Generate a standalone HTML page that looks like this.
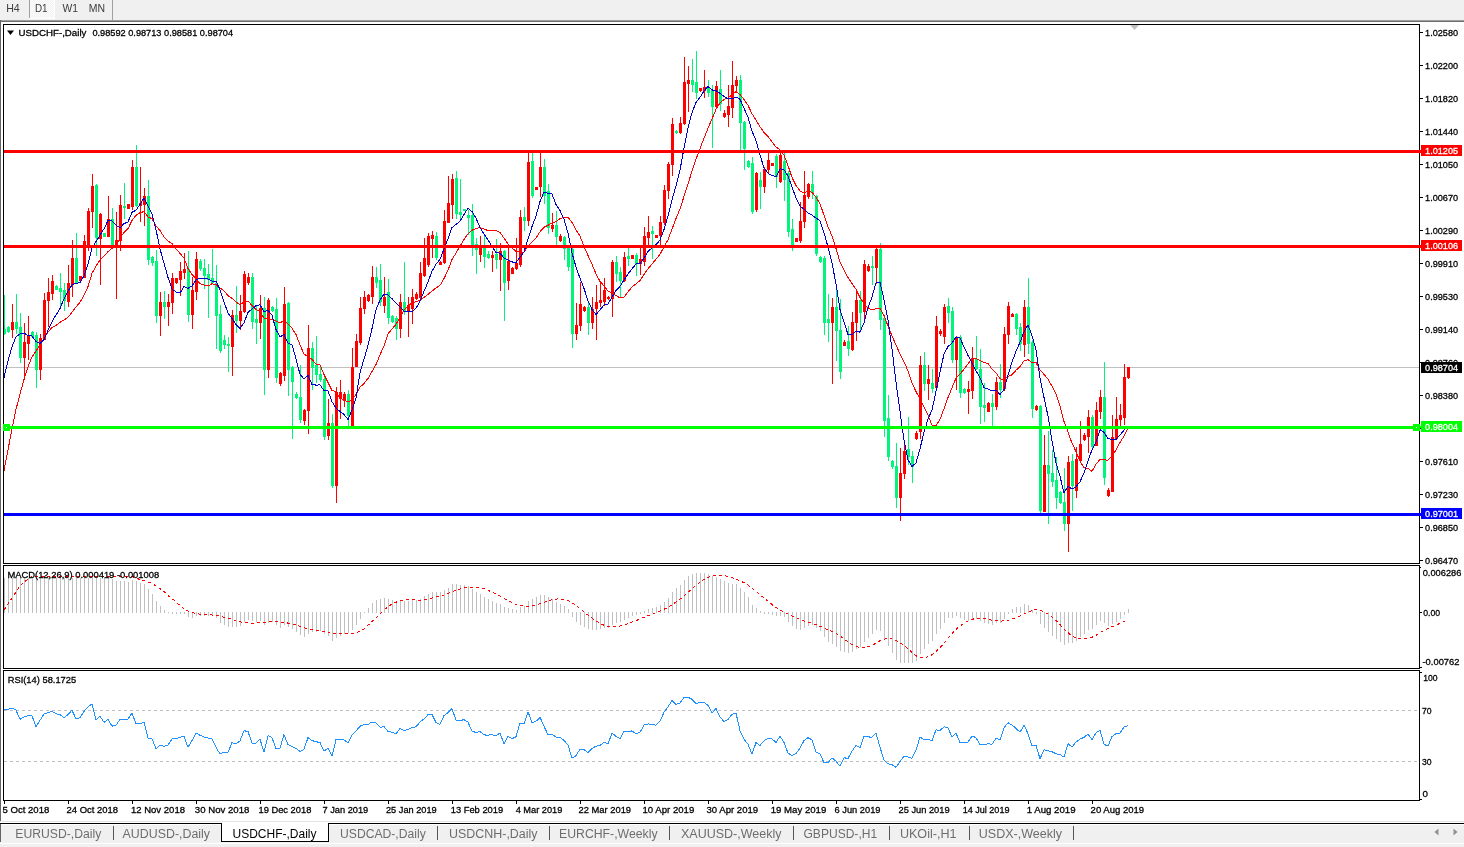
<!DOCTYPE html><html><head><meta charset="utf-8"><title>USDCHF-,Daily</title><style>
html,body{margin:0;padding:0;background:#f0f0f0;}
body{width:1464px;height:847px;overflow:hidden;position:relative;}
svg{position:absolute;left:0;top:0;display:block}
text{font-family:"Liberation Sans",Arial,sans-serif;}
</style></head><body>
<svg width="1464" height="847" viewBox="0 0 1464 847">
<g shape-rendering="crispEdges">
<rect x="0" y="0" width="1464" height="847" fill="#f0f0f0"/>
<rect x="0" y="20" width="1464" height="1" fill="#a0a0a0"/>
<rect x="0" y="21" width="1464" height="1" fill="#6e6e6e"/>
<rect x="1" y="22" width="1463" height="799" fill="#ffffff"/>
<rect x="0" y="20" width="1" height="801" fill="#646464"/>
<rect x="29" y="0" width="1" height="18" fill="#a0a0a0"/>
<rect x="112" y="0" width="1" height="20" fill="#a0a0a0"/>
</g>
<defs><pattern id="chk" width="2" height="2" patternUnits="userSpaceOnUse"><rect width="2" height="2" fill="#f0f0f0"/><rect width="1" height="1" fill="#ffffff"/><rect x="1" y="1" width="1" height="1" fill="#ffffff"/></pattern></defs>
<rect x="30" y="0" width="24" height="18" fill="url(#chk)" shape-rendering="crispEdges"/>
<rect x="54" y="0" width="1" height="19" fill="#ffffff" shape-rendering="crispEdges"/><rect x="29" y="18" width="26" height="1" fill="#ffffff" shape-rendering="crispEdges"/>
<g shape-rendering="crispEdges" fill="none" stroke="#000" stroke-width="1">
<rect x="3.5" y="24.5" width="1416" height="539"/>
<rect x="3.5" y="565.5" width="1416" height="103"/>
<rect x="3.5" y="670.5" width="1416" height="130"/>
</g>
<svg x="4" y="25" width="1415" height="538" viewBox="4 25 1415 538" overflow="hidden">
<rect x="4" y="367" width="1415" height="1" fill="#c0c0c0" shape-rendering="crispEdges"/>
<g shape-rendering="crispEdges">
<rect x="4" y="295" width="1" height="40" fill="#00f57a"/><rect x="3" y="329" width="3" height="5" fill="#00f57a"/>
<rect x="8" y="326" width="1" height="7" fill="#00f57a"/><rect x="7" y="327" width="3" height="5" fill="#00f57a"/>
<rect x="12" y="304" width="1" height="34" fill="#ff0000"/><rect x="11" y="322" width="3" height="8" fill="#ff0000"/>
<rect x="16" y="294" width="1" height="40" fill="#00f57a"/><rect x="15" y="322" width="3" height="7" fill="#00f57a"/>
<rect x="20" y="313" width="1" height="50" fill="#00f57a"/><rect x="19" y="327" width="3" height="31" fill="#00f57a"/>
<rect x="24" y="323" width="1" height="55" fill="#ff0000"/><rect x="23" y="342" width="3" height="16" fill="#ff0000"/>
<rect x="28" y="316" width="1" height="44" fill="#ff0000"/><rect x="27" y="336" width="3" height="8" fill="#ff0000"/>
<rect x="32" y="331" width="1" height="7" fill="#00f57a"/><rect x="31" y="332" width="3" height="5" fill="#00f57a"/>
<rect x="36" y="332" width="1" height="56" fill="#00f57a"/><rect x="35" y="335" width="3" height="35" fill="#00f57a"/>
<rect x="40" y="334" width="1" height="46" fill="#ff0000"/><rect x="39" y="338" width="3" height="32" fill="#ff0000"/>
<rect x="44" y="293" width="1" height="47" fill="#ff0000"/><rect x="43" y="300" width="3" height="40" fill="#ff0000"/>
<rect x="48" y="278" width="1" height="49" fill="#ff0000"/><rect x="47" y="292" width="3" height="9" fill="#ff0000"/>
<rect x="52" y="275" width="1" height="25" fill="#ff0000"/><rect x="51" y="281" width="3" height="13" fill="#ff0000"/>
<rect x="56" y="285" width="1" height="5" fill="#00f57a"/><rect x="55" y="286" width="3" height="4" fill="#00f57a"/>
<rect x="60" y="273" width="1" height="34" fill="#00f57a"/><rect x="59" y="288" width="3" height="4" fill="#00f57a"/>
<rect x="64" y="283" width="1" height="28" fill="#00f57a"/><rect x="63" y="290" width="3" height="11" fill="#00f57a"/>
<rect x="68" y="265" width="1" height="42" fill="#ff0000"/><rect x="67" y="283" width="3" height="19" fill="#ff0000"/>
<rect x="72" y="240" width="1" height="57" fill="#ff0000"/><rect x="71" y="258" width="3" height="27" fill="#ff0000"/>
<rect x="76" y="233" width="1" height="51" fill="#00f57a"/><rect x="75" y="258" width="3" height="25" fill="#00f57a"/>
<rect x="80" y="276" width="1" height="6" fill="#ff0000"/><rect x="79" y="276" width="3" height="5" fill="#ff0000"/>
<rect x="84" y="235" width="1" height="43" fill="#ff0000"/><rect x="83" y="241" width="3" height="37" fill="#ff0000"/>
<rect x="88" y="208" width="1" height="43" fill="#ff0000"/><rect x="87" y="211" width="3" height="34" fill="#ff0000"/>
<rect x="92" y="174" width="1" height="54" fill="#ff0000"/><rect x="91" y="186" width="3" height="26" fill="#ff0000"/>
<rect x="96" y="184" width="1" height="72" fill="#00f57a"/><rect x="95" y="185" width="3" height="53" fill="#00f57a"/>
<rect x="100" y="213" width="1" height="72" fill="#ff0000"/><rect x="99" y="214" width="3" height="25" fill="#ff0000"/>
<rect x="104" y="233" width="1" height="4" fill="#00f57a"/><rect x="103" y="233" width="3" height="4" fill="#00f57a"/>
<rect x="108" y="196" width="1" height="41" fill="#ff0000"/><rect x="107" y="219" width="3" height="18" fill="#ff0000"/>
<rect x="112" y="208" width="1" height="37" fill="#00f57a"/><rect x="111" y="219" width="3" height="26" fill="#00f57a"/>
<rect x="116" y="212" width="1" height="87" fill="#ff0000"/><rect x="115" y="240" width="3" height="6" fill="#ff0000"/>
<rect x="120" y="195" width="1" height="56" fill="#ff0000"/><rect x="119" y="205" width="3" height="36" fill="#ff0000"/>
<rect x="124" y="183" width="1" height="36" fill="#00f57a"/><rect x="123" y="206" width="3" height="2" fill="#00f57a"/>
<rect x="128" y="204" width="1" height="5" fill="#ff0000"/><rect x="127" y="204" width="3" height="5" fill="#ff0000"/>
<rect x="132" y="160" width="1" height="50" fill="#ff0000"/><rect x="131" y="167" width="3" height="40" fill="#ff0000"/>
<rect x="136" y="145" width="1" height="62" fill="#00f57a"/><rect x="135" y="167" width="3" height="39" fill="#00f57a"/>
<rect x="140" y="167" width="1" height="55" fill="#ff0000"/><rect x="139" y="203" width="3" height="3" fill="#ff0000"/>
<rect x="144" y="188" width="1" height="38" fill="#ff0000"/><rect x="143" y="196" width="3" height="9" fill="#ff0000"/>
<rect x="148" y="180" width="1" height="85" fill="#00f57a"/><rect x="147" y="196" width="3" height="64" fill="#00f57a"/>
<rect x="152" y="256" width="1" height="10" fill="#00f57a"/><rect x="151" y="257" width="3" height="6" fill="#00f57a"/>
<rect x="156" y="250" width="1" height="73" fill="#00f57a"/><rect x="155" y="261" width="3" height="55" fill="#00f57a"/>
<rect x="160" y="292" width="1" height="44" fill="#ff0000"/><rect x="159" y="302" width="3" height="14" fill="#ff0000"/>
<rect x="164" y="291" width="1" height="28" fill="#00f57a"/><rect x="163" y="302" width="3" height="5" fill="#00f57a"/>
<rect x="168" y="294" width="1" height="32" fill="#ff0000"/><rect x="167" y="302" width="3" height="5" fill="#ff0000"/>
<rect x="172" y="273" width="1" height="41" fill="#ff0000"/><rect x="171" y="278" width="3" height="25" fill="#ff0000"/>
<rect x="176" y="278" width="1" height="6" fill="#ff0000"/><rect x="175" y="278" width="3" height="5" fill="#ff0000"/>
<rect x="180" y="262" width="1" height="34" fill="#ff0000"/><rect x="179" y="271" width="3" height="9" fill="#ff0000"/>
<rect x="184" y="253" width="1" height="26" fill="#ff0000"/><rect x="183" y="269" width="3" height="4" fill="#ff0000"/>
<rect x="188" y="251" width="1" height="71" fill="#00f57a"/><rect x="187" y="269" width="3" height="46" fill="#00f57a"/>
<rect x="192" y="277" width="1" height="52" fill="#ff0000"/><rect x="191" y="290" width="3" height="25" fill="#ff0000"/>
<rect x="196" y="252" width="1" height="48" fill="#ff0000"/><rect x="195" y="259" width="3" height="33" fill="#ff0000"/>
<rect x="200" y="259" width="1" height="12" fill="#00f57a"/><rect x="199" y="261" width="3" height="8" fill="#00f57a"/>
<rect x="204" y="259" width="1" height="30" fill="#00f57a"/><rect x="203" y="268" width="3" height="8" fill="#00f57a"/>
<rect x="208" y="264" width="1" height="54" fill="#00f57a"/><rect x="207" y="274" width="3" height="6" fill="#00f57a"/>
<rect x="212" y="249" width="1" height="35" fill="#00f57a"/><rect x="211" y="278" width="3" height="5" fill="#00f57a"/>
<rect x="216" y="265" width="1" height="84" fill="#00f57a"/><rect x="215" y="283" width="3" height="33" fill="#00f57a"/>
<rect x="220" y="305" width="1" height="48" fill="#00f57a"/><rect x="219" y="314" width="3" height="37" fill="#00f57a"/>
<rect x="224" y="335" width="1" height="14" fill="#00f57a"/><rect x="223" y="340" width="3" height="5" fill="#00f57a"/>
<rect x="228" y="337" width="1" height="35" fill="#00f57a"/><rect x="227" y="344" width="3" height="2" fill="#00f57a"/>
<rect x="232" y="310" width="1" height="66" fill="#ff0000"/><rect x="231" y="315" width="3" height="32" fill="#ff0000"/>
<rect x="236" y="286" width="1" height="47" fill="#00f57a"/><rect x="235" y="315" width="3" height="6" fill="#00f57a"/>
<rect x="240" y="295" width="1" height="35" fill="#ff0000"/><rect x="239" y="311" width="3" height="10" fill="#ff0000"/>
<rect x="244" y="271" width="1" height="42" fill="#ff0000"/><rect x="243" y="274" width="3" height="38" fill="#ff0000"/>
<rect x="248" y="273" width="1" height="12" fill="#ff0000"/><rect x="247" y="277" width="3" height="6" fill="#ff0000"/>
<rect x="252" y="273" width="1" height="56" fill="#00f57a"/><rect x="251" y="277" width="3" height="45" fill="#00f57a"/>
<rect x="256" y="305" width="1" height="39" fill="#00f57a"/><rect x="255" y="319" width="3" height="4" fill="#00f57a"/>
<rect x="260" y="295" width="1" height="44" fill="#ff0000"/><rect x="259" y="308" width="3" height="15" fill="#ff0000"/>
<rect x="264" y="297" width="1" height="98" fill="#00f57a"/><rect x="263" y="308" width="3" height="62" fill="#00f57a"/>
<rect x="268" y="298" width="1" height="80" fill="#ff0000"/><rect x="267" y="300" width="3" height="70" fill="#ff0000"/>
<rect x="272" y="306" width="1" height="6" fill="#00f57a"/><rect x="271" y="307" width="3" height="4" fill="#00f57a"/>
<rect x="276" y="298" width="1" height="85" fill="#00f57a"/><rect x="275" y="309" width="3" height="69" fill="#00f57a"/>
<rect x="280" y="372" width="1" height="14" fill="#ff0000"/><rect x="279" y="373" width="3" height="11" fill="#ff0000"/>
<rect x="284" y="287" width="1" height="94" fill="#ff0000"/><rect x="283" y="304" width="3" height="72" fill="#ff0000"/>
<rect x="288" y="302" width="1" height="94" fill="#00f57a"/><rect x="287" y="303" width="3" height="67" fill="#00f57a"/>
<rect x="292" y="366" width="1" height="73" fill="#00f57a"/><rect x="291" y="367" width="3" height="15" fill="#00f57a"/>
<rect x="296" y="392" width="1" height="7" fill="#00f57a"/><rect x="295" y="394" width="3" height="4" fill="#00f57a"/>
<rect x="300" y="365" width="1" height="58" fill="#00f57a"/><rect x="299" y="397" width="3" height="23" fill="#00f57a"/>
<rect x="304" y="409" width="1" height="16" fill="#ff0000"/><rect x="303" y="410" width="3" height="11" fill="#ff0000"/>
<rect x="308" y="325" width="1" height="109" fill="#ff0000"/><rect x="307" y="348" width="3" height="63" fill="#ff0000"/>
<rect x="312" y="342" width="1" height="48" fill="#00f57a"/><rect x="311" y="348" width="3" height="20" fill="#00f57a"/>
<rect x="316" y="336" width="1" height="47" fill="#00f57a"/><rect x="315" y="365" width="3" height="10" fill="#00f57a"/>
<rect x="320" y="365" width="1" height="17" fill="#00f57a"/><rect x="319" y="374" width="3" height="6" fill="#00f57a"/>
<rect x="324" y="377" width="1" height="63" fill="#00f57a"/><rect x="323" y="379" width="3" height="58" fill="#00f57a"/>
<rect x="328" y="399" width="1" height="41" fill="#ff0000"/><rect x="327" y="423" width="3" height="13" fill="#ff0000"/>
<rect x="332" y="414" width="1" height="74" fill="#00f57a"/><rect x="331" y="423" width="3" height="63" fill="#00f57a"/>
<rect x="336" y="387" width="1" height="116" fill="#ff0000"/><rect x="335" y="392" width="3" height="94" fill="#ff0000"/>
<rect x="340" y="380" width="1" height="39" fill="#ff0000"/><rect x="339" y="392" width="3" height="7" fill="#ff0000"/>
<rect x="344" y="392" width="1" height="15" fill="#ff0000"/><rect x="343" y="394" width="3" height="7" fill="#ff0000"/>
<rect x="348" y="390" width="1" height="36" fill="#00f57a"/><rect x="347" y="394" width="3" height="22" fill="#00f57a"/>
<rect x="352" y="348" width="1" height="79" fill="#ff0000"/><rect x="351" y="367" width="3" height="59" fill="#ff0000"/>
<rect x="356" y="334" width="1" height="33" fill="#ff0000"/><rect x="355" y="341" width="3" height="26" fill="#ff0000"/>
<rect x="360" y="297" width="1" height="48" fill="#ff0000"/><rect x="359" y="308" width="3" height="35" fill="#ff0000"/>
<rect x="364" y="291" width="1" height="23" fill="#ff0000"/><rect x="363" y="297" width="3" height="12" fill="#ff0000"/>
<rect x="368" y="294" width="1" height="8" fill="#ff0000"/><rect x="367" y="295" width="3" height="6" fill="#ff0000"/>
<rect x="372" y="266" width="1" height="38" fill="#ff0000"/><rect x="371" y="277" width="3" height="20" fill="#ff0000"/>
<rect x="376" y="267" width="1" height="21" fill="#00f57a"/><rect x="375" y="277" width="3" height="6" fill="#00f57a"/>
<rect x="380" y="264" width="1" height="42" fill="#00f57a"/><rect x="379" y="280" width="3" height="22" fill="#00f57a"/>
<rect x="384" y="277" width="1" height="36" fill="#ff0000"/><rect x="383" y="297" width="3" height="9" fill="#ff0000"/>
<rect x="388" y="279" width="1" height="45" fill="#00f57a"/><rect x="387" y="292" width="3" height="26" fill="#00f57a"/>
<rect x="392" y="315" width="1" height="8" fill="#00f57a"/><rect x="391" y="316" width="3" height="6" fill="#00f57a"/>
<rect x="396" y="316" width="1" height="24" fill="#00f57a"/><rect x="395" y="318" width="3" height="11" fill="#00f57a"/>
<rect x="400" y="294" width="1" height="44" fill="#ff0000"/><rect x="399" y="302" width="3" height="27" fill="#ff0000"/>
<rect x="404" y="262" width="1" height="53" fill="#00f57a"/><rect x="403" y="302" width="3" height="10" fill="#00f57a"/>
<rect x="408" y="297" width="1" height="40" fill="#ff0000"/><rect x="407" y="305" width="3" height="7" fill="#ff0000"/>
<rect x="412" y="289" width="1" height="35" fill="#ff0000"/><rect x="411" y="297" width="3" height="12" fill="#ff0000"/>
<rect x="416" y="292" width="1" height="8" fill="#ff0000"/><rect x="415" y="294" width="3" height="5" fill="#ff0000"/>
<rect x="420" y="262" width="1" height="38" fill="#ff0000"/><rect x="419" y="273" width="3" height="25" fill="#ff0000"/>
<rect x="424" y="238" width="1" height="39" fill="#ff0000"/><rect x="423" y="258" width="3" height="18" fill="#ff0000"/>
<rect x="428" y="233" width="1" height="34" fill="#ff0000"/><rect x="427" y="236" width="3" height="29" fill="#ff0000"/>
<rect x="432" y="231" width="1" height="27" fill="#ff0000"/><rect x="431" y="235" width="3" height="4" fill="#ff0000"/>
<rect x="436" y="232" width="1" height="28" fill="#00f57a"/><rect x="435" y="236" width="3" height="22" fill="#00f57a"/>
<rect x="440" y="261" width="1" height="4" fill="#ff0000"/><rect x="439" y="262" width="3" height="3" fill="#ff0000"/>
<rect x="444" y="210" width="1" height="54" fill="#ff0000"/><rect x="443" y="221" width="3" height="42" fill="#ff0000"/>
<rect x="448" y="176" width="1" height="47" fill="#ff0000"/><rect x="447" y="203" width="3" height="20" fill="#ff0000"/>
<rect x="452" y="174" width="1" height="45" fill="#ff0000"/><rect x="451" y="179" width="3" height="26" fill="#ff0000"/>
<rect x="456" y="171" width="1" height="48" fill="#00f57a"/><rect x="455" y="178" width="3" height="36" fill="#00f57a"/>
<rect x="460" y="179" width="1" height="40" fill="#00f57a"/><rect x="459" y="212" width="3" height="3" fill="#00f57a"/>
<rect x="464" y="209" width="1" height="2" fill="#00f57a"/><rect x="463" y="209" width="3" height="2" fill="#00f57a"/>
<rect x="468" y="210" width="1" height="25" fill="#00f57a"/><rect x="467" y="215" width="3" height="3" fill="#00f57a"/>
<rect x="472" y="204" width="1" height="52" fill="#00f57a"/><rect x="471" y="215" width="3" height="31" fill="#00f57a"/>
<rect x="476" y="238" width="1" height="36" fill="#00f57a"/><rect x="475" y="244" width="3" height="6" fill="#00f57a"/>
<rect x="480" y="236" width="1" height="26" fill="#ff0000"/><rect x="479" y="246" width="3" height="9" fill="#ff0000"/>
<rect x="484" y="236" width="1" height="32" fill="#00f57a"/><rect x="483" y="247" width="3" height="10" fill="#00f57a"/>
<rect x="488" y="251" width="1" height="8" fill="#00f57a"/><rect x="487" y="254" width="3" height="4" fill="#00f57a"/>
<rect x="492" y="251" width="1" height="21" fill="#ff0000"/><rect x="491" y="255" width="3" height="3" fill="#ff0000"/>
<rect x="496" y="239" width="1" height="30" fill="#00f57a"/><rect x="495" y="254" width="3" height="6" fill="#00f57a"/>
<rect x="500" y="243" width="1" height="48" fill="#ff0000"/><rect x="499" y="251" width="3" height="9" fill="#ff0000"/>
<rect x="504" y="250" width="1" height="71" fill="#00f57a"/><rect x="503" y="251" width="3" height="32" fill="#00f57a"/>
<rect x="508" y="244" width="1" height="46" fill="#ff0000"/><rect x="507" y="261" width="3" height="20" fill="#ff0000"/>
<rect x="512" y="267" width="1" height="7" fill="#ff0000"/><rect x="511" y="268" width="3" height="6" fill="#ff0000"/>
<rect x="516" y="238" width="1" height="32" fill="#ff0000"/><rect x="515" y="263" width="3" height="6" fill="#ff0000"/>
<rect x="520" y="210" width="1" height="57" fill="#ff0000"/><rect x="519" y="217" width="3" height="48" fill="#ff0000"/>
<rect x="524" y="207" width="1" height="24" fill="#00f57a"/><rect x="523" y="217" width="3" height="4" fill="#00f57a"/>
<rect x="528" y="150" width="1" height="76" fill="#ff0000"/><rect x="527" y="162" width="3" height="59" fill="#ff0000"/>
<rect x="532" y="153" width="1" height="45" fill="#00f57a"/><rect x="531" y="161" width="3" height="35" fill="#00f57a"/>
<rect x="536" y="187" width="1" height="3" fill="#ff0000"/><rect x="535" y="187" width="3" height="3" fill="#ff0000"/>
<rect x="540" y="152" width="1" height="45" fill="#ff0000"/><rect x="539" y="167" width="3" height="20" fill="#ff0000"/>
<rect x="544" y="159" width="1" height="45" fill="#00f57a"/><rect x="543" y="167" width="3" height="29" fill="#00f57a"/>
<rect x="548" y="184" width="1" height="50" fill="#00f57a"/><rect x="547" y="191" width="3" height="37" fill="#00f57a"/>
<rect x="552" y="213" width="1" height="19" fill="#ff0000"/><rect x="551" y="225" width="3" height="4" fill="#ff0000"/>
<rect x="556" y="211" width="1" height="34" fill="#00f57a"/><rect x="555" y="225" width="3" height="12" fill="#00f57a"/>
<rect x="560" y="234" width="1" height="8" fill="#ff0000"/><rect x="559" y="236" width="3" height="5" fill="#ff0000"/>
<rect x="564" y="236" width="1" height="24" fill="#00f57a"/><rect x="563" y="237" width="3" height="12" fill="#00f57a"/>
<rect x="568" y="247" width="1" height="24" fill="#00f57a"/><rect x="567" y="248" width="3" height="19" fill="#00f57a"/>
<rect x="572" y="248" width="1" height="100" fill="#00f57a"/><rect x="571" y="249" width="3" height="85" fill="#00f57a"/>
<rect x="576" y="303" width="1" height="37" fill="#ff0000"/><rect x="575" y="325" width="3" height="9" fill="#ff0000"/>
<rect x="580" y="282" width="1" height="49" fill="#ff0000"/><rect x="579" y="304" width="3" height="22" fill="#ff0000"/>
<rect x="584" y="306" width="1" height="6" fill="#ff0000"/><rect x="583" y="307" width="3" height="4" fill="#ff0000"/>
<rect x="588" y="303" width="1" height="32" fill="#00f57a"/><rect x="587" y="307" width="3" height="16" fill="#00f57a"/>
<rect x="592" y="297" width="1" height="32" fill="#ff0000"/><rect x="591" y="309" width="3" height="14" fill="#ff0000"/>
<rect x="596" y="285" width="1" height="55" fill="#ff0000"/><rect x="595" y="302" width="3" height="7" fill="#ff0000"/>
<rect x="600" y="282" width="1" height="25" fill="#ff0000"/><rect x="599" y="300" width="3" height="3" fill="#ff0000"/>
<rect x="604" y="278" width="1" height="28" fill="#ff0000"/><rect x="603" y="290" width="3" height="12" fill="#ff0000"/>
<rect x="608" y="296" width="1" height="4" fill="#ff0000"/><rect x="607" y="297" width="3" height="2" fill="#ff0000"/>
<rect x="612" y="260" width="1" height="57" fill="#ff0000"/><rect x="611" y="262" width="3" height="37" fill="#ff0000"/>
<rect x="616" y="256" width="1" height="26" fill="#00f57a"/><rect x="615" y="262" width="3" height="12" fill="#00f57a"/>
<rect x="620" y="267" width="1" height="31" fill="#00f57a"/><rect x="619" y="272" width="3" height="9" fill="#00f57a"/>
<rect x="624" y="252" width="1" height="30" fill="#ff0000"/><rect x="623" y="257" width="3" height="24" fill="#ff0000"/>
<rect x="628" y="248" width="1" height="18" fill="#00f57a"/><rect x="627" y="256" width="3" height="3" fill="#00f57a"/>
<rect x="632" y="255" width="1" height="4" fill="#ff0000"/><rect x="631" y="255" width="3" height="4" fill="#ff0000"/>
<rect x="636" y="253" width="1" height="23" fill="#00f57a"/><rect x="635" y="255" width="3" height="9" fill="#00f57a"/>
<rect x="640" y="248" width="1" height="27" fill="#ff0000"/><rect x="639" y="259" width="3" height="5" fill="#ff0000"/>
<rect x="644" y="227" width="1" height="39" fill="#ff0000"/><rect x="643" y="236" width="3" height="26" fill="#ff0000"/>
<rect x="648" y="216" width="1" height="30" fill="#ff0000"/><rect x="647" y="232" width="3" height="6" fill="#ff0000"/>
<rect x="652" y="226" width="1" height="33" fill="#00f57a"/><rect x="651" y="231" width="3" height="3" fill="#00f57a"/>
<rect x="656" y="235" width="1" height="3" fill="#ff0000"/><rect x="655" y="235" width="3" height="3" fill="#ff0000"/>
<rect x="660" y="216" width="1" height="29" fill="#ff0000"/><rect x="659" y="222" width="3" height="14" fill="#ff0000"/>
<rect x="664" y="185" width="1" height="40" fill="#ff0000"/><rect x="663" y="190" width="3" height="33" fill="#ff0000"/>
<rect x="668" y="162" width="1" height="37" fill="#ff0000"/><rect x="667" y="164" width="3" height="27" fill="#ff0000"/>
<rect x="672" y="118" width="1" height="58" fill="#ff0000"/><rect x="671" y="124" width="3" height="41" fill="#ff0000"/>
<rect x="676" y="130" width="1" height="4" fill="#00f57a"/><rect x="675" y="131" width="3" height="2" fill="#00f57a"/>
<rect x="680" y="117" width="1" height="17" fill="#ff0000"/><rect x="679" y="123" width="3" height="10" fill="#ff0000"/>
<rect x="684" y="57" width="1" height="68" fill="#ff0000"/><rect x="683" y="82" width="3" height="42" fill="#ff0000"/>
<rect x="688" y="66" width="1" height="46" fill="#ff0000"/><rect x="687" y="80" width="3" height="4" fill="#ff0000"/>
<rect x="692" y="59" width="1" height="33" fill="#00f57a"/><rect x="691" y="80" width="3" height="5" fill="#00f57a"/>
<rect x="696" y="51" width="1" height="48" fill="#00f57a"/><rect x="695" y="82" width="3" height="11" fill="#00f57a"/>
<rect x="700" y="88" width="1" height="4" fill="#ff0000"/><rect x="699" y="88" width="3" height="3" fill="#ff0000"/>
<rect x="704" y="70" width="1" height="28" fill="#ff0000"/><rect x="703" y="87" width="3" height="4" fill="#ff0000"/>
<rect x="708" y="80" width="1" height="17" fill="#00f57a"/><rect x="707" y="87" width="3" height="6" fill="#00f57a"/>
<rect x="712" y="85" width="1" height="63" fill="#00f57a"/><rect x="711" y="90" width="3" height="17" fill="#00f57a"/>
<rect x="716" y="81" width="1" height="27" fill="#ff0000"/><rect x="715" y="86" width="3" height="21" fill="#ff0000"/>
<rect x="720" y="70" width="1" height="41" fill="#00f57a"/><rect x="719" y="89" width="3" height="15" fill="#00f57a"/>
<rect x="724" y="110" width="1" height="8" fill="#ff0000"/><rect x="723" y="113" width="3" height="4" fill="#ff0000"/>
<rect x="728" y="85" width="1" height="42" fill="#ff0000"/><rect x="727" y="106" width="3" height="9" fill="#ff0000"/>
<rect x="732" y="61" width="1" height="57" fill="#ff0000"/><rect x="731" y="85" width="3" height="23" fill="#ff0000"/>
<rect x="736" y="76" width="1" height="15" fill="#ff0000"/><rect x="735" y="80" width="3" height="6" fill="#ff0000"/>
<rect x="740" y="75" width="1" height="75" fill="#00f57a"/><rect x="739" y="80" width="3" height="43" fill="#00f57a"/>
<rect x="744" y="121" width="1" height="49" fill="#00f57a"/><rect x="743" y="122" width="3" height="27" fill="#00f57a"/>
<rect x="748" y="160" width="1" height="8" fill="#00f57a"/><rect x="747" y="161" width="3" height="6" fill="#00f57a"/>
<rect x="752" y="157" width="1" height="57" fill="#00f57a"/><rect x="751" y="163" width="3" height="49" fill="#00f57a"/>
<rect x="756" y="172" width="1" height="40" fill="#ff0000"/><rect x="755" y="173" width="3" height="37" fill="#ff0000"/>
<rect x="760" y="172" width="1" height="37" fill="#00f57a"/><rect x="759" y="180" width="3" height="7" fill="#00f57a"/>
<rect x="764" y="167" width="1" height="26" fill="#ff0000"/><rect x="763" y="169" width="3" height="18" fill="#ff0000"/>
<rect x="768" y="153" width="1" height="21" fill="#ff0000"/><rect x="767" y="160" width="3" height="10" fill="#ff0000"/>
<rect x="772" y="163" width="1" height="3" fill="#ff0000"/><rect x="771" y="163" width="3" height="3" fill="#ff0000"/>
<rect x="776" y="154" width="1" height="34" fill="#00f57a"/><rect x="775" y="156" width="3" height="21" fill="#00f57a"/>
<rect x="780" y="153" width="1" height="30" fill="#ff0000"/><rect x="779" y="155" width="3" height="27" fill="#ff0000"/>
<rect x="784" y="152" width="1" height="49" fill="#00f57a"/><rect x="783" y="161" width="3" height="19" fill="#00f57a"/>
<rect x="788" y="171" width="1" height="66" fill="#00f57a"/><rect x="787" y="173" width="3" height="59" fill="#00f57a"/>
<rect x="792" y="219" width="1" height="32" fill="#00f57a"/><rect x="791" y="229" width="3" height="16" fill="#00f57a"/>
<rect x="796" y="238" width="1" height="4" fill="#ff0000"/><rect x="795" y="238" width="3" height="4" fill="#ff0000"/>
<rect x="800" y="202" width="1" height="41" fill="#ff0000"/><rect x="799" y="221" width="3" height="20" fill="#ff0000"/>
<rect x="804" y="171" width="1" height="57" fill="#ff0000"/><rect x="803" y="195" width="3" height="27" fill="#ff0000"/>
<rect x="808" y="183" width="1" height="16" fill="#ff0000"/><rect x="807" y="184" width="3" height="13" fill="#ff0000"/>
<rect x="812" y="171" width="1" height="28" fill="#00f57a"/><rect x="811" y="184" width="3" height="9" fill="#00f57a"/>
<rect x="816" y="195" width="1" height="61" fill="#00f57a"/><rect x="815" y="196" width="3" height="58" fill="#00f57a"/>
<rect x="820" y="256" width="1" height="7" fill="#00f57a"/><rect x="819" y="257" width="3" height="5" fill="#00f57a"/>
<rect x="824" y="256" width="1" height="79" fill="#00f57a"/><rect x="823" y="258" width="3" height="65" fill="#00f57a"/>
<rect x="828" y="294" width="1" height="48" fill="#00f57a"/><rect x="827" y="319" width="3" height="4" fill="#00f57a"/>
<rect x="832" y="298" width="1" height="86" fill="#ff0000"/><rect x="831" y="307" width="3" height="16" fill="#ff0000"/>
<rect x="836" y="289" width="1" height="72" fill="#00f57a"/><rect x="835" y="307" width="3" height="24" fill="#00f57a"/>
<rect x="840" y="299" width="1" height="80" fill="#00f57a"/><rect x="839" y="330" width="3" height="42" fill="#00f57a"/>
<rect x="844" y="340" width="1" height="6" fill="#ff0000"/><rect x="843" y="342" width="3" height="4" fill="#ff0000"/>
<rect x="848" y="326" width="1" height="30" fill="#00f57a"/><rect x="847" y="341" width="3" height="8" fill="#00f57a"/>
<rect x="852" y="312" width="1" height="39" fill="#ff0000"/><rect x="851" y="322" width="3" height="28" fill="#ff0000"/>
<rect x="856" y="291" width="1" height="50" fill="#ff0000"/><rect x="855" y="300" width="3" height="23" fill="#ff0000"/>
<rect x="860" y="291" width="1" height="39" fill="#00f57a"/><rect x="859" y="300" width="3" height="13" fill="#00f57a"/>
<rect x="864" y="260" width="1" height="61" fill="#ff0000"/><rect x="863" y="264" width="3" height="48" fill="#ff0000"/>
<rect x="868" y="264" width="1" height="8" fill="#ff0000"/><rect x="867" y="266" width="3" height="5" fill="#ff0000"/>
<rect x="872" y="256" width="1" height="29" fill="#00f57a"/><rect x="871" y="266" width="3" height="2" fill="#00f57a"/>
<rect x="876" y="247" width="1" height="37" fill="#ff0000"/><rect x="875" y="249" width="3" height="19" fill="#ff0000"/>
<rect x="880" y="243" width="1" height="87" fill="#00f57a"/><rect x="879" y="249" width="3" height="71" fill="#00f57a"/>
<rect x="884" y="316" width="1" height="121" fill="#00f57a"/><rect x="883" y="318" width="3" height="103" fill="#00f57a"/>
<rect x="888" y="395" width="1" height="66" fill="#00f57a"/><rect x="887" y="418" width="3" height="39" fill="#00f57a"/>
<rect x="892" y="460" width="1" height="9" fill="#00f57a"/><rect x="891" y="461" width="3" height="6" fill="#00f57a"/>
<rect x="896" y="443" width="1" height="65" fill="#00f57a"/><rect x="895" y="466" width="3" height="32" fill="#00f57a"/>
<rect x="900" y="448" width="1" height="73" fill="#ff0000"/><rect x="899" y="473" width="3" height="25" fill="#ff0000"/>
<rect x="904" y="443" width="1" height="36" fill="#ff0000"/><rect x="903" y="451" width="3" height="23" fill="#ff0000"/>
<rect x="908" y="417" width="1" height="48" fill="#00f57a"/><rect x="907" y="449" width="3" height="8" fill="#00f57a"/>
<rect x="912" y="451" width="1" height="32" fill="#00f57a"/><rect x="911" y="456" width="3" height="11" fill="#00f57a"/>
<rect x="916" y="431" width="1" height="9" fill="#ff0000"/><rect x="915" y="433" width="3" height="6" fill="#ff0000"/>
<rect x="920" y="356" width="1" height="83" fill="#ff0000"/><rect x="919" y="365" width="3" height="67" fill="#ff0000"/>
<rect x="924" y="352" width="1" height="39" fill="#00f57a"/><rect x="923" y="365" width="3" height="19" fill="#00f57a"/>
<rect x="928" y="365" width="1" height="35" fill="#ff0000"/><rect x="927" y="379" width="3" height="5" fill="#ff0000"/>
<rect x="932" y="369" width="1" height="24" fill="#00f57a"/><rect x="931" y="383" width="3" height="6" fill="#00f57a"/>
<rect x="936" y="316" width="1" height="75" fill="#ff0000"/><rect x="935" y="326" width="3" height="62" fill="#ff0000"/>
<rect x="940" y="329" width="1" height="7" fill="#ff0000"/><rect x="939" y="331" width="3" height="3" fill="#ff0000"/>
<rect x="944" y="304" width="1" height="40" fill="#ff0000"/><rect x="943" y="307" width="3" height="30" fill="#ff0000"/>
<rect x="948" y="298" width="1" height="25" fill="#00f57a"/><rect x="947" y="306" width="3" height="7" fill="#00f57a"/>
<rect x="952" y="307" width="1" height="56" fill="#00f57a"/><rect x="951" y="311" width="3" height="49" fill="#00f57a"/>
<rect x="956" y="336" width="1" height="54" fill="#ff0000"/><rect x="955" y="337" width="3" height="23" fill="#ff0000"/>
<rect x="960" y="335" width="1" height="63" fill="#00f57a"/><rect x="959" y="337" width="3" height="56" fill="#00f57a"/>
<rect x="964" y="388" width="1" height="6" fill="#00f57a"/><rect x="963" y="389" width="3" height="4" fill="#00f57a"/>
<rect x="968" y="381" width="1" height="33" fill="#ff0000"/><rect x="967" y="389" width="3" height="3" fill="#ff0000"/>
<rect x="972" y="347" width="1" height="52" fill="#ff0000"/><rect x="971" y="359" width="3" height="32" fill="#ff0000"/>
<rect x="976" y="336" width="1" height="34" fill="#00f57a"/><rect x="975" y="359" width="3" height="10" fill="#00f57a"/>
<rect x="980" y="349" width="1" height="75" fill="#00f57a"/><rect x="979" y="369" width="3" height="38" fill="#00f57a"/>
<rect x="984" y="383" width="1" height="39" fill="#00f57a"/><rect x="983" y="405" width="3" height="3" fill="#00f57a"/>
<rect x="988" y="402" width="1" height="10" fill="#ff0000"/><rect x="987" y="403" width="3" height="9" fill="#ff0000"/>
<rect x="992" y="394" width="1" height="33" fill="#00f57a"/><rect x="991" y="403" width="3" height="4" fill="#00f57a"/>
<rect x="996" y="377" width="1" height="33" fill="#ff0000"/><rect x="995" y="382" width="3" height="25" fill="#ff0000"/>
<rect x="1000" y="364" width="1" height="34" fill="#00f57a"/><rect x="999" y="382" width="3" height="8" fill="#00f57a"/>
<rect x="1004" y="327" width="1" height="64" fill="#ff0000"/><rect x="1003" y="334" width="3" height="55" fill="#ff0000"/>
<rect x="1008" y="302" width="1" height="42" fill="#ff0000"/><rect x="1007" y="306" width="3" height="29" fill="#ff0000"/>
<rect x="1012" y="313" width="1" height="4" fill="#ff0000"/><rect x="1011" y="314" width="3" height="3" fill="#ff0000"/>
<rect x="1016" y="313" width="1" height="22" fill="#00f57a"/><rect x="1015" y="314" width="3" height="15" fill="#00f57a"/>
<rect x="1020" y="323" width="1" height="28" fill="#00f57a"/><rect x="1019" y="327" width="3" height="17" fill="#00f57a"/>
<rect x="1024" y="300" width="1" height="57" fill="#ff0000"/><rect x="1023" y="307" width="3" height="38" fill="#ff0000"/>
<rect x="1028" y="278" width="1" height="76" fill="#00f57a"/><rect x="1027" y="307" width="3" height="37" fill="#00f57a"/>
<rect x="1032" y="340" width="1" height="78" fill="#00f57a"/><rect x="1031" y="342" width="3" height="67" fill="#00f57a"/>
<rect x="1036" y="405" width="1" height="6" fill="#ff0000"/><rect x="1035" y="406" width="3" height="4" fill="#ff0000"/>
<rect x="1040" y="405" width="1" height="108" fill="#00f57a"/><rect x="1039" y="406" width="3" height="105" fill="#00f57a"/>
<rect x="1044" y="435" width="1" height="77" fill="#ff0000"/><rect x="1043" y="465" width="3" height="47" fill="#ff0000"/>
<rect x="1048" y="431" width="1" height="93" fill="#00f57a"/><rect x="1047" y="465" width="3" height="9" fill="#00f57a"/>
<rect x="1052" y="450" width="1" height="37" fill="#00f57a"/><rect x="1051" y="473" width="3" height="9" fill="#00f57a"/>
<rect x="1056" y="457" width="1" height="52" fill="#00f57a"/><rect x="1055" y="480" width="3" height="18" fill="#00f57a"/>
<rect x="1060" y="491" width="1" height="13" fill="#00f57a"/><rect x="1059" y="492" width="3" height="11" fill="#00f57a"/>
<rect x="1064" y="468" width="1" height="63" fill="#00f57a"/><rect x="1063" y="502" width="3" height="22" fill="#00f57a"/>
<rect x="1068" y="456" width="1" height="96" fill="#ff0000"/><rect x="1067" y="462" width="3" height="62" fill="#ff0000"/>
<rect x="1072" y="454" width="1" height="57" fill="#00f57a"/><rect x="1071" y="461" width="3" height="25" fill="#00f57a"/>
<rect x="1076" y="447" width="1" height="51" fill="#ff0000"/><rect x="1075" y="459" width="3" height="32" fill="#ff0000"/>
<rect x="1080" y="421" width="1" height="40" fill="#ff0000"/><rect x="1079" y="444" width="3" height="17" fill="#ff0000"/>
<rect x="1084" y="433" width="1" height="8" fill="#ff0000"/><rect x="1083" y="435" width="3" height="5" fill="#ff0000"/>
<rect x="1088" y="410" width="1" height="43" fill="#ff0000"/><rect x="1087" y="417" width="3" height="20" fill="#ff0000"/>
<rect x="1092" y="415" width="1" height="33" fill="#00f57a"/><rect x="1091" y="417" width="3" height="30" fill="#00f57a"/>
<rect x="1096" y="402" width="1" height="44" fill="#ff0000"/><rect x="1095" y="410" width="3" height="36" fill="#ff0000"/>
<rect x="1100" y="390" width="1" height="29" fill="#ff0000"/><rect x="1099" y="397" width="3" height="15" fill="#ff0000"/>
<rect x="1104" y="362" width="1" height="123" fill="#00f57a"/><rect x="1103" y="397" width="3" height="81" fill="#00f57a"/>
<rect x="1108" y="488" width="1" height="9" fill="#ff0000"/><rect x="1107" y="490" width="3" height="6" fill="#ff0000"/>
<rect x="1112" y="415" width="1" height="77" fill="#ff0000"/><rect x="1111" y="437" width="3" height="55" fill="#ff0000"/>
<rect x="1116" y="397" width="1" height="42" fill="#ff0000"/><rect x="1115" y="419" width="3" height="20" fill="#ff0000"/>
<rect x="1120" y="404" width="1" height="22" fill="#ff0000"/><rect x="1119" y="415" width="3" height="5" fill="#ff0000"/>
<rect x="1124" y="364" width="1" height="61" fill="#ff0000"/><rect x="1123" y="377" width="3" height="41" fill="#ff0000"/>
<rect x="1128" y="367" width="1" height="12" fill="#ff0000"/><rect x="1127" y="367" width="3" height="11" fill="#ff0000"/>
</g>
<polyline points="4.0,470.6 8.0,449.8 12.0,428.8 16.0,409.5 20.0,393.9 24.0,379.5 28.0,367.0 32.0,356.8 36.0,351.1 40.0,345.2 44.0,338.2 48.0,332.2 52.0,327.4 56.0,325.3 60.0,322.3 64.0,320.1 68.0,317.3 72.0,312.3 76.0,306.9 80.0,302.2 84.0,295.4 88.0,286.5 92.0,273.4 96.0,266.2 100.0,260.1 104.0,256.1 108.0,251.6 112.0,248.4 116.0,244.8 120.0,238.0 124.0,232.6 128.0,228.7 132.0,220.5 136.0,215.4 140.0,212.7 144.0,211.6 148.0,216.9 152.0,218.6 156.0,225.9 160.0,230.6 164.0,236.8 168.0,240.9 172.0,243.6 176.0,248.9 180.0,253.4 184.0,258.1 188.0,268.6 192.0,274.6 196.0,278.6 200.0,283.8 204.0,284.9 208.0,286.1 212.0,283.8 216.0,284.7 220.0,287.9 224.0,290.9 228.0,295.6 232.0,298.3 236.0,301.8 240.0,304.8 244.0,301.9 248.0,301.0 252.0,305.4 256.0,309.3 260.0,311.6 264.0,318.1 268.0,319.4 272.0,319.0 276.0,320.9 280.0,323.0 284.0,320.1 288.0,323.9 292.0,328.3 296.0,334.4 300.0,344.8 304.0,354.3 308.0,356.2 312.0,359.4 316.0,364.1 320.0,364.9 324.0,374.6 328.0,382.6 332.0,390.4 336.0,391.7 340.0,398.0 344.0,399.8 348.0,402.2 352.0,400.1 356.0,394.5 360.0,387.2 364.0,383.6 368.0,378.4 372.0,371.5 376.0,364.6 380.0,354.9 384.0,345.9 388.0,333.9 392.0,328.9 396.0,324.3 400.0,317.7 404.0,310.3 408.0,305.9 412.0,302.7 416.0,301.7 420.0,300.0 424.0,297.4 428.0,294.4 432.0,291.1 436.0,287.9 440.0,285.4 444.0,278.6 448.0,270.1 452.0,259.5 456.0,253.1 460.0,246.2 464.0,239.4 468.0,233.7 472.0,230.2 476.0,228.5 480.0,227.6 484.0,229.1 488.0,230.6 492.0,230.5 496.0,230.3 500.0,232.4 504.0,238.1 508.0,243.9 512.0,247.9 516.0,251.4 520.0,251.9 524.0,252.1 528.0,246.1 532.0,242.3 536.0,238.1 540.0,231.7 544.0,227.3 548.0,225.3 552.0,222.9 556.0,221.8 560.0,218.5 564.0,217.6 568.0,217.4 572.0,222.4 576.0,230.1 580.0,236.1 584.0,246.5 588.0,255.6 592.0,264.3 596.0,273.9 600.0,281.4 604.0,285.9 608.0,291.1 612.0,292.9 616.0,295.6 620.0,297.9 624.0,297.2 628.0,291.9 632.0,286.9 636.0,283.9 640.0,280.5 644.0,274.4 648.0,268.9 652.0,263.9 656.0,259.3 660.0,254.4 664.0,246.8 668.0,239.8 672.0,229.1 676.0,218.6 680.0,209.0 684.0,196.4 688.0,183.9 692.0,171.1 696.0,159.2 700.0,148.6 704.0,138.3 708.0,128.2 712.0,119.0 716.0,109.3 720.0,103.1 724.0,99.4 728.0,98.1 732.0,94.8 736.0,91.7 740.0,94.6 744.0,99.4 748.0,105.3 752.0,113.8 756.0,119.9 760.0,126.9 764.0,132.4 768.0,136.3 772.0,141.8 776.0,147.0 780.0,150.0 784.0,155.2 788.0,165.6 792.0,177.4 796.0,185.6 800.0,190.9 804.0,192.9 808.0,191.0 812.0,192.4 816.0,197.1 820.0,203.7 824.0,215.3 828.0,226.6 832.0,236.0 836.0,248.5 840.0,262.2 844.0,270.1 848.0,277.6 852.0,283.6 856.0,289.2 860.0,297.6 864.0,303.3 868.0,308.6 872.0,309.6 876.0,308.7 880.0,308.5 884.0,315.5 888.0,326.1 892.0,335.9 896.0,344.9 900.0,354.2 904.0,361.6 908.0,371.1 912.0,383.0 916.0,391.6 920.0,398.9 924.0,407.2 928.0,415.2 932.0,425.1 936.0,425.6 940.0,419.3 944.0,408.6 948.0,397.6 952.0,387.8 956.0,378.1 960.0,373.9 964.0,369.3 968.0,363.8 972.0,358.5 976.0,358.7 980.0,360.4 984.0,362.4 988.0,363.4 992.0,369.1 996.0,372.8 1000.0,378.6 1004.0,380.2 1008.0,376.4 1012.0,374.8 1016.0,370.2 1020.0,366.7 1024.0,360.9 1028.0,359.7 1032.0,362.6 1036.0,362.6 1040.0,369.9 1044.0,374.4 1048.0,379.1 1052.0,386.2 1056.0,393.9 1060.0,405.9 1064.0,421.4 1068.0,432.0 1072.0,443.2 1076.0,451.5 1080.0,461.3 1084.0,467.9 1088.0,468.5 1092.0,471.4 1096.0,464.2 1100.0,459.4 1104.0,459.6 1108.0,460.3 1112.0,456.0 1116.0,450.1 1120.0,442.4 1124.0,436.3 1128.0,427.9" fill="none" stroke="#ff0000" stroke-width="1" shape-rendering="crispEdges"/>
<polyline points="4.0,377.6 8.0,360.8 12.0,346.7 16.0,336.7 20.0,334.0 24.0,333.1 28.0,335.6 32.0,336.0 36.0,341.4 40.0,343.7 44.0,339.7 48.0,330.4 52.0,321.7 56.0,315.0 60.0,308.6 64.0,298.7 68.0,290.9 72.0,284.9 76.0,283.4 80.0,282.7 84.0,275.9 88.0,264.4 92.0,248.1 96.0,241.6 100.0,235.3 104.0,228.7 108.0,220.6 112.0,221.0 116.0,225.1 120.0,227.9 124.0,223.6 128.0,222.1 132.0,212.3 136.0,210.3 140.0,204.4 144.0,198.1 148.0,205.9 152.0,213.7 156.0,229.6 160.0,248.9 164.0,263.3 168.0,277.4 172.0,289.1 176.0,291.9 180.0,293.1 184.0,286.6 188.0,288.3 192.0,286.0 196.0,279.9 200.0,278.4 204.0,278.0 208.0,279.1 212.0,281.0 216.0,281.1 220.0,289.7 224.0,301.9 228.0,312.9 232.0,318.6 236.0,324.4 240.0,328.6 244.0,322.7 248.0,312.3 252.0,309.0 256.0,305.7 260.0,304.7 264.0,311.7 268.0,310.1 272.0,315.3 276.0,329.6 280.0,337.0 284.0,334.4 288.0,343.1 292.0,344.9 296.0,358.7 300.0,374.3 304.0,379.0 308.0,375.4 312.0,384.4 316.0,385.1 320.0,384.9 324.0,390.4 328.0,391.0 332.0,401.7 336.0,408.0 340.0,411.6 344.0,414.4 348.0,419.6 352.0,409.7 356.0,398.0 360.0,372.7 364.0,359.1 368.0,345.3 372.0,328.6 376.0,309.6 380.0,300.1 384.0,293.9 388.0,295.1 392.0,298.6 396.0,303.3 400.0,306.9 404.0,311.0 408.0,311.6 412.0,311.6 416.0,308.3 420.0,301.4 424.0,291.4 428.0,282.0 432.0,271.1 436.0,264.3 440.0,259.3 444.0,248.9 448.0,238.9 452.0,227.6 456.0,224.3 460.0,221.3 464.0,214.6 468.0,208.1 472.0,211.6 476.0,218.1 480.0,227.7 484.0,233.9 488.0,240.0 492.0,246.4 496.0,252.4 500.0,253.3 504.0,258.0 508.0,260.1 512.0,261.9 516.0,262.7 520.0,257.3 524.0,251.7 528.0,239.0 532.0,226.6 536.0,216.0 540.0,201.6 544.0,191.9 548.0,193.3 552.0,194.0 556.0,204.6 560.0,210.4 564.0,219.1 568.0,233.3 572.0,253.0 576.0,267.0 580.0,278.3 584.0,288.4 588.0,300.7 592.0,309.4 596.0,314.6 600.0,309.9 604.0,304.9 608.0,303.9 612.0,297.4 616.0,290.4 620.0,286.3 624.0,279.9 628.0,273.9 632.0,268.9 636.0,264.0 640.0,263.6 644.0,258.3 648.0,251.4 652.0,248.0 656.0,244.7 660.0,240.0 664.0,229.6 668.0,216.0 672.0,200.0 676.0,185.7 680.0,170.0 684.0,148.1 688.0,127.9 692.0,112.7 696.0,102.4 700.0,97.3 704.0,90.9 708.0,86.4 712.0,89.9 716.0,90.7 720.0,93.4 724.0,96.4 728.0,99.0 732.0,98.7 736.0,97.0 740.0,99.3 744.0,108.1 748.0,117.1 752.0,131.1 756.0,140.7 760.0,155.1 764.0,167.9 768.0,173.3 772.0,175.4 776.0,176.9 780.0,168.9 784.0,169.7 788.0,176.1 792.0,186.9 796.0,198.0 800.0,206.3 804.0,209.0 808.0,213.1 812.0,215.0 816.0,218.1 820.0,220.6 824.0,232.6 828.0,247.0 832.0,263.0 836.0,283.9 840.0,309.4 844.0,322.1 848.0,334.6 852.0,334.6 856.0,331.4 860.0,332.1 864.0,322.7 868.0,307.7 872.0,297.0 876.0,282.9 880.0,282.4 884.0,299.6 888.0,320.1 892.0,349.0 896.0,382.0 900.0,411.4 904.0,440.3 908.0,459.9 912.0,466.4 916.0,463.1 920.0,448.7 924.0,432.4 928.0,419.0 932.0,410.0 936.0,391.4 940.0,372.1 944.0,354.1 948.0,346.6 952.0,343.1 956.0,337.1 960.0,337.7 964.0,347.1 968.0,355.4 972.0,362.9 976.0,370.9 980.0,377.6 984.0,387.6 988.0,389.1 992.0,391.1 996.0,390.1 1000.0,394.4 1004.0,389.6 1008.0,375.3 1012.0,362.0 1016.0,351.3 1020.0,342.3 1024.0,331.6 1028.0,325.0 1032.0,335.6 1036.0,349.9 1040.0,377.9 1044.0,397.4 1048.0,416.0 1052.0,440.9 1056.0,462.9 1060.0,476.3 1064.0,493.0 1068.0,486.1 1072.0,489.0 1076.0,487.0 1080.0,481.7 1084.0,472.9 1088.0,460.7 1092.0,449.7 1096.0,442.3 1100.0,429.7 1104.0,432.3 1108.0,438.9 1112.0,439.1 1116.0,439.4 1120.0,435.0 1124.0,430.3 1128.0,426.0" fill="none" stroke="#0000cd" stroke-width="1" shape-rendering="crispEdges"/>
<g shape-rendering="crispEdges">
<rect x="4" y="150" width="1415" height="3" fill="#ff0000"/>
<rect x="4" y="245" width="1415" height="3" fill="#ff0000"/>
<rect x="4" y="426" width="1415" height="3" fill="#00ff00"/>
<rect x="4" y="513" width="1415" height="3" fill="#0000ff"/>
<rect x="1413" y="424" width="7" height="7" fill="#00ff00"/>
<rect x="1416" y="427" width="1" height="1" fill="#ffffff"/>
</g>
</svg>
<g shape-rendering="crispEdges"><rect x="1419" y="150" width="2" height="3" fill="#ff0000"/><rect x="1419" y="245" width="2" height="3" fill="#ff0000"/><rect x="1419" y="426" width="2" height="3" fill="#00ff00"/><rect x="1419" y="513" width="2" height="3" fill="#0000ff"/><rect x="1413" y="424" width="7" height="7" fill="#00ff00"/><rect x="1416" y="427" width="1" height="1" fill="#ffffff"/></g>
<g shape-rendering="crispEdges"><rect x="3" y="424" width="7" height="7" fill="#00ff00"/><rect x="6" y="427" width="1" height="1" fill="#ffffff"/></g>
<path d="M1130,25 L1139,25 L1134.5,30 Z" fill="#c0c0c0"/>
<path d="M7,30.5 L14,30.5 L10.5,35 Z" fill="#000"/>
<g shape-rendering="crispEdges" fill="#000">
<rect x="1420" y="32" width="3" height="1"/>
<rect x="1420" y="65" width="3" height="1"/>
<rect x="1420" y="98" width="3" height="1"/>
<rect x="1420" y="131" width="3" height="1"/>
<rect x="1420" y="164" width="3" height="1"/>
<rect x="1420" y="197" width="3" height="1"/>
<rect x="1420" y="230" width="3" height="1"/>
<rect x="1420" y="263" width="3" height="1"/>
<rect x="1420" y="296" width="3" height="1"/>
<rect x="1420" y="329" width="3" height="1"/>
<rect x="1420" y="362" width="3" height="1"/>
<rect x="1420" y="395" width="3" height="1"/>
<rect x="1420" y="428" width="3" height="1"/>
<rect x="1420" y="461" width="3" height="1"/>
<rect x="1420" y="494" width="3" height="1"/>
<rect x="1420" y="527" width="3" height="1"/>
<rect x="1420" y="560" width="3" height="1"/>
</g>
<rect x="1421" y="145" width="41" height="11" fill="#ff0000" shape-rendering="crispEdges"/>
<rect x="1421" y="240" width="41" height="11" fill="#ff0000" shape-rendering="crispEdges"/>
<rect x="1421" y="421" width="41" height="11" fill="#00ff00" shape-rendering="crispEdges"/>
<rect x="1421" y="508" width="41" height="11" fill="#0000ff" shape-rendering="crispEdges"/>
<rect x="1421" y="362" width="41" height="11" fill="#000000" shape-rendering="crispEdges"/>
<svg x="4" y="566" width="1415" height="102" viewBox="4 566 1415 102" overflow="hidden">
<g shape-rendering="crispEdges" fill="#c0c0c0">
<rect x="4" y="578" width="1" height="35"/>
<rect x="8" y="578" width="1" height="35"/>
<rect x="12" y="578" width="1" height="35"/>
<rect x="16" y="578" width="1" height="35"/>
<rect x="20" y="578" width="1" height="35"/>
<rect x="24" y="578" width="1" height="35"/>
<rect x="28" y="578" width="1" height="35"/>
<rect x="32" y="578" width="1" height="35"/>
<rect x="36" y="578" width="1" height="35"/>
<rect x="40" y="578" width="1" height="35"/>
<rect x="44" y="578" width="1" height="35"/>
<rect x="48" y="578" width="1" height="35"/>
<rect x="52" y="578" width="1" height="35"/>
<rect x="56" y="578" width="1" height="35"/>
<rect x="60" y="578" width="1" height="35"/>
<rect x="64" y="578" width="1" height="35"/>
<rect x="68" y="578" width="1" height="35"/>
<rect x="72" y="578" width="1" height="35"/>
<rect x="76" y="578" width="1" height="35"/>
<rect x="80" y="578" width="1" height="35"/>
<rect x="84" y="578" width="1" height="35"/>
<rect x="88" y="578" width="1" height="35"/>
<rect x="92" y="578" width="1" height="35"/>
<rect x="96" y="578" width="1" height="35"/>
<rect x="100" y="578" width="1" height="35"/>
<rect x="104" y="578" width="1" height="35"/>
<rect x="108" y="578" width="1" height="35"/>
<rect x="112" y="579" width="1" height="34"/>
<rect x="116" y="581" width="1" height="32"/>
<rect x="120" y="581" width="1" height="32"/>
<rect x="124" y="581" width="1" height="32"/>
<rect x="128" y="582" width="1" height="31"/>
<rect x="132" y="580" width="1" height="33"/>
<rect x="136" y="581" width="1" height="32"/>
<rect x="140" y="583" width="1" height="30"/>
<rect x="144" y="584" width="1" height="29"/>
<rect x="148" y="589" width="1" height="24"/>
<rect x="152" y="594" width="1" height="19"/>
<rect x="156" y="601" width="1" height="12"/>
<rect x="160" y="606" width="1" height="7"/>
<rect x="164" y="610" width="1" height="3"/>
<rect x="168" y="612" width="1" height="1"/>
<rect x="172" y="612" width="1" height="2"/>
<rect x="176" y="612" width="1" height="2"/>
<rect x="180" y="612" width="1" height="2"/>
<rect x="184" y="612" width="1" height="2"/>
<rect x="188" y="612" width="1" height="5"/>
<rect x="192" y="612" width="1" height="6"/>
<rect x="196" y="612" width="1" height="4"/>
<rect x="200" y="612" width="1" height="4"/>
<rect x="204" y="612" width="1" height="4"/>
<rect x="208" y="612" width="1" height="4"/>
<rect x="212" y="612" width="1" height="4"/>
<rect x="216" y="612" width="1" height="6"/>
<rect x="220" y="612" width="1" height="11"/>
<rect x="224" y="612" width="1" height="13"/>
<rect x="228" y="612" width="1" height="15"/>
<rect x="232" y="612" width="1" height="15"/>
<rect x="236" y="612" width="1" height="15"/>
<rect x="240" y="612" width="1" height="14"/>
<rect x="244" y="612" width="1" height="10"/>
<rect x="248" y="612" width="1" height="8"/>
<rect x="252" y="612" width="1" height="9"/>
<rect x="256" y="612" width="1" height="10"/>
<rect x="260" y="612" width="1" height="9"/>
<rect x="264" y="612" width="1" height="13"/>
<rect x="268" y="612" width="1" height="11"/>
<rect x="272" y="612" width="1" height="10"/>
<rect x="276" y="612" width="1" height="13"/>
<rect x="280" y="612" width="1" height="16"/>
<rect x="284" y="612" width="1" height="13"/>
<rect x="288" y="612" width="1" height="15"/>
<rect x="292" y="612" width="1" height="17"/>
<rect x="296" y="612" width="1" height="20"/>
<rect x="300" y="612" width="1" height="23"/>
<rect x="304" y="612" width="1" height="25"/>
<rect x="308" y="612" width="1" height="22"/>
<rect x="312" y="612" width="1" height="20"/>
<rect x="316" y="612" width="1" height="20"/>
<rect x="320" y="612" width="1" height="19"/>
<rect x="324" y="612" width="1" height="22"/>
<rect x="328" y="612" width="1" height="24"/>
<rect x="332" y="612" width="1" height="29"/>
<rect x="336" y="612" width="1" height="26"/>
<rect x="340" y="612" width="1" height="24"/>
<rect x="344" y="612" width="1" height="22"/>
<rect x="348" y="612" width="1" height="21"/>
<rect x="352" y="612" width="1" height="18"/>
<rect x="356" y="612" width="1" height="13"/>
<rect x="360" y="612" width="1" height="7"/>
<rect x="364" y="612" width="1" height="1"/>
<rect x="368" y="608" width="1" height="5"/>
<rect x="372" y="603" width="1" height="10"/>
<rect x="376" y="600" width="1" height="13"/>
<rect x="380" y="599" width="1" height="14"/>
<rect x="384" y="598" width="1" height="15"/>
<rect x="388" y="599" width="1" height="14"/>
<rect x="392" y="600" width="1" height="13"/>
<rect x="396" y="601" width="1" height="12"/>
<rect x="400" y="601" width="1" height="12"/>
<rect x="404" y="601" width="1" height="12"/>
<rect x="408" y="601" width="1" height="12"/>
<rect x="412" y="600" width="1" height="13"/>
<rect x="416" y="600" width="1" height="13"/>
<rect x="420" y="599" width="1" height="14"/>
<rect x="424" y="596" width="1" height="17"/>
<rect x="428" y="594" width="1" height="19"/>
<rect x="432" y="592" width="1" height="21"/>
<rect x="436" y="592" width="1" height="21"/>
<rect x="440" y="592" width="1" height="21"/>
<rect x="444" y="590" width="1" height="23"/>
<rect x="448" y="588" width="1" height="25"/>
<rect x="452" y="584" width="1" height="29"/>
<rect x="456" y="584" width="1" height="29"/>
<rect x="460" y="585" width="1" height="28"/>
<rect x="464" y="585" width="1" height="28"/>
<rect x="468" y="586" width="1" height="27"/>
<rect x="472" y="589" width="1" height="24"/>
<rect x="476" y="592" width="1" height="21"/>
<rect x="480" y="594" width="1" height="19"/>
<rect x="484" y="597" width="1" height="16"/>
<rect x="488" y="599" width="1" height="14"/>
<rect x="492" y="601" width="1" height="12"/>
<rect x="496" y="603" width="1" height="10"/>
<rect x="500" y="604" width="1" height="9"/>
<rect x="504" y="607" width="1" height="6"/>
<rect x="508" y="608" width="1" height="5"/>
<rect x="512" y="609" width="1" height="4"/>
<rect x="516" y="610" width="1" height="3"/>
<rect x="520" y="607" width="1" height="6"/>
<rect x="524" y="606" width="1" height="7"/>
<rect x="528" y="601" width="1" height="12"/>
<rect x="532" y="599" width="1" height="14"/>
<rect x="536" y="597" width="1" height="16"/>
<rect x="540" y="595" width="1" height="18"/>
<rect x="544" y="595" width="1" height="18"/>
<rect x="548" y="597" width="1" height="16"/>
<rect x="552" y="599" width="1" height="14"/>
<rect x="556" y="602" width="1" height="11"/>
<rect x="560" y="604" width="1" height="9"/>
<rect x="564" y="606" width="1" height="7"/>
<rect x="568" y="609" width="1" height="4"/>
<rect x="572" y="612" width="1" height="5"/>
<rect x="576" y="612" width="1" height="10"/>
<rect x="580" y="612" width="1" height="13"/>
<rect x="584" y="612" width="1" height="15"/>
<rect x="588" y="612" width="1" height="17"/>
<rect x="592" y="612" width="1" height="18"/>
<rect x="596" y="612" width="1" height="18"/>
<rect x="600" y="612" width="1" height="17"/>
<rect x="604" y="612" width="1" height="16"/>
<rect x="608" y="612" width="1" height="16"/>
<rect x="612" y="612" width="1" height="13"/>
<rect x="616" y="612" width="1" height="11"/>
<rect x="620" y="612" width="1" height="10"/>
<rect x="624" y="612" width="1" height="8"/>
<rect x="628" y="612" width="1" height="6"/>
<rect x="632" y="612" width="1" height="4"/>
<rect x="636" y="612" width="1" height="3"/>
<rect x="640" y="612" width="1" height="2"/>
<rect x="644" y="611" width="1" height="2"/>
<rect x="648" y="609" width="1" height="4"/>
<rect x="652" y="608" width="1" height="5"/>
<rect x="656" y="607" width="1" height="6"/>
<rect x="660" y="605" width="1" height="8"/>
<rect x="664" y="602" width="1" height="11"/>
<rect x="668" y="598" width="1" height="15"/>
<rect x="672" y="592" width="1" height="21"/>
<rect x="676" y="588" width="1" height="25"/>
<rect x="680" y="585" width="1" height="28"/>
<rect x="684" y="580" width="1" height="33"/>
<rect x="688" y="576" width="1" height="37"/>
<rect x="692" y="574" width="1" height="39"/>
<rect x="696" y="573" width="1" height="40"/>
<rect x="700" y="573" width="1" height="40"/>
<rect x="704" y="573" width="1" height="40"/>
<rect x="708" y="574" width="1" height="39"/>
<rect x="712" y="576" width="1" height="37"/>
<rect x="716" y="577" width="1" height="36"/>
<rect x="720" y="579" width="1" height="34"/>
<rect x="724" y="581" width="1" height="32"/>
<rect x="728" y="583" width="1" height="30"/>
<rect x="732" y="584" width="1" height="29"/>
<rect x="736" y="584" width="1" height="29"/>
<rect x="740" y="588" width="1" height="25"/>
<rect x="744" y="592" width="1" height="21"/>
<rect x="748" y="597" width="1" height="16"/>
<rect x="752" y="605" width="1" height="8"/>
<rect x="756" y="608" width="1" height="5"/>
<rect x="760" y="611" width="1" height="2"/>
<rect x="764" y="612" width="1" height="2"/>
<rect x="768" y="612" width="1" height="2"/>
<rect x="772" y="612" width="1" height="3"/>
<rect x="776" y="612" width="1" height="4"/>
<rect x="780" y="612" width="1" height="4"/>
<rect x="784" y="612" width="1" height="5"/>
<rect x="788" y="612" width="1" height="10"/>
<rect x="792" y="612" width="1" height="14"/>
<rect x="796" y="612" width="1" height="17"/>
<rect x="800" y="612" width="1" height="18"/>
<rect x="804" y="612" width="1" height="16"/>
<rect x="808" y="612" width="1" height="14"/>
<rect x="812" y="612" width="1" height="13"/>
<rect x="816" y="612" width="1" height="16"/>
<rect x="820" y="612" width="1" height="19"/>
<rect x="824" y="612" width="1" height="25"/>
<rect x="828" y="612" width="1" height="30"/>
<rect x="832" y="612" width="1" height="32"/>
<rect x="836" y="612" width="1" height="35"/>
<rect x="840" y="612" width="1" height="39"/>
<rect x="844" y="612" width="1" height="40"/>
<rect x="848" y="612" width="1" height="41"/>
<rect x="852" y="612" width="1" height="40"/>
<rect x="856" y="612" width="1" height="37"/>
<rect x="860" y="612" width="1" height="35"/>
<rect x="864" y="612" width="1" height="30"/>
<rect x="868" y="612" width="1" height="26"/>
<rect x="872" y="612" width="1" height="22"/>
<rect x="876" y="612" width="1" height="18"/>
<rect x="880" y="612" width="1" height="19"/>
<rect x="884" y="612" width="1" height="27"/>
<rect x="888" y="612" width="1" height="34"/>
<rect x="892" y="612" width="1" height="41"/>
<rect x="896" y="612" width="1" height="48"/>
<rect x="900" y="612" width="1" height="51"/>
<rect x="904" y="612" width="1" height="51"/>
<rect x="908" y="612" width="1" height="51"/>
<rect x="912" y="612" width="1" height="51"/>
<rect x="916" y="612" width="1" height="49"/>
<rect x="920" y="612" width="1" height="42"/>
<rect x="924" y="612" width="1" height="37"/>
<rect x="928" y="612" width="1" height="32"/>
<rect x="932" y="612" width="1" height="29"/>
<rect x="936" y="612" width="1" height="22"/>
<rect x="940" y="612" width="1" height="17"/>
<rect x="944" y="612" width="1" height="11"/>
<rect x="948" y="612" width="1" height="6"/>
<rect x="952" y="612" width="1" height="6"/>
<rect x="956" y="612" width="1" height="4"/>
<rect x="960" y="612" width="1" height="6"/>
<rect x="964" y="612" width="1" height="8"/>
<rect x="968" y="612" width="1" height="9"/>
<rect x="972" y="612" width="1" height="8"/>
<rect x="976" y="612" width="1" height="7"/>
<rect x="980" y="612" width="1" height="9"/>
<rect x="984" y="612" width="1" height="11"/>
<rect x="988" y="612" width="1" height="12"/>
<rect x="992" y="612" width="1" height="13"/>
<rect x="996" y="612" width="1" height="11"/>
<rect x="1000" y="612" width="1" height="11"/>
<rect x="1004" y="612" width="1" height="7"/>
<rect x="1008" y="612" width="1" height="2"/>
<rect x="1012" y="609" width="1" height="4"/>
<rect x="1016" y="607" width="1" height="6"/>
<rect x="1020" y="607" width="1" height="6"/>
<rect x="1024" y="604" width="1" height="9"/>
<rect x="1028" y="605" width="1" height="8"/>
<rect x="1032" y="610" width="1" height="3"/>
<rect x="1036" y="612" width="1" height="2"/>
<rect x="1040" y="612" width="1" height="12"/>
<rect x="1044" y="612" width="1" height="16"/>
<rect x="1048" y="612" width="1" height="20"/>
<rect x="1052" y="612" width="1" height="24"/>
<rect x="1056" y="612" width="1" height="27"/>
<rect x="1060" y="612" width="1" height="30"/>
<rect x="1064" y="612" width="1" height="33"/>
<rect x="1068" y="612" width="1" height="31"/>
<rect x="1072" y="612" width="1" height="31"/>
<rect x="1076" y="612" width="1" height="29"/>
<rect x="1080" y="612" width="1" height="25"/>
<rect x="1084" y="612" width="1" height="22"/>
<rect x="1088" y="612" width="1" height="18"/>
<rect x="1092" y="612" width="1" height="17"/>
<rect x="1096" y="612" width="1" height="13"/>
<rect x="1100" y="612" width="1" height="9"/>
<rect x="1104" y="612" width="1" height="11"/>
<rect x="1108" y="612" width="1" height="14"/>
<rect x="1112" y="612" width="1" height="12"/>
<rect x="1116" y="612" width="1" height="10"/>
<rect x="1120" y="612" width="1" height="7"/>
<rect x="1124" y="612" width="1" height="3"/>
<rect x="1128" y="609" width="1" height="4"/>
</g>
<polyline points="4.0,610.0 8.0,604.0 12.0,598.0 16.0,592.0 20.0,586.0 24.0,582.0 28.0,579.5 32.0,576.0 36.0,576.0 40.0,576.0 44.0,576.0 48.0,576.0 52.0,576.0 56.0,576.0 60.0,576.0 64.0,576.0 68.0,576.0 72.0,576.0 76.0,576.0 80.0,576.0 84.0,576.0 88.0,576.0 92.0,576.0 96.0,576.0 100.0,576.0 104.0,576.0 108.0,576.0 112.0,576.0 116.0,576.0 120.0,576.0 124.0,576.0 128.0,576.0 132.0,576.0 136.0,578.5 140.0,579.3 144.0,580.5 148.0,582.0 152.0,583.3 156.0,586.0 160.0,588.5 164.0,591.5 168.0,595.5 172.0,598.5 176.0,602.0 180.0,605.5 184.0,608.5 188.0,611.0 192.0,612.3 196.0,613.5 200.0,614.2 204.0,614.6 208.0,614.8 212.0,615.0 216.0,615.4 220.0,616.3 224.0,617.2 228.0,618.3 232.0,619.4 236.0,620.7 240.0,621.8 244.0,622.5 248.0,623.0 252.0,623.2 256.0,623.1 260.0,622.6 264.0,622.3 268.0,621.8 272.0,621.3 276.0,621.2 280.0,621.8 284.0,622.4 288.0,623.1 292.0,623.9 296.0,625.1 300.0,626.2 304.0,627.8 308.0,629.1 312.0,629.9 316.0,630.3 320.0,631.0 324.0,631.8 328.0,632.5 332.0,633.5 336.0,633.9 340.0,633.7 344.0,633.7 348.0,633.9 352.0,633.7 356.0,633.0 360.0,631.3 364.0,628.8 368.0,625.3 372.0,621.5 376.0,617.7 380.0,613.9 384.0,610.1 388.0,606.7 392.0,604.0 396.0,602.2 400.0,600.8 404.0,600.1 408.0,599.8 412.0,599.9 416.0,600.0 420.0,600.1 424.0,599.8 428.0,599.2 432.0,598.1 436.0,597.1 440.0,596.1 444.0,595.0 448.0,593.5 452.0,591.8 456.0,590.2 460.0,588.9 464.0,588.0 468.0,587.4 472.0,587.1 476.0,587.1 480.0,587.6 484.0,588.6 488.0,590.3 492.0,592.1 496.0,594.1 500.0,596.2 504.0,598.5 508.0,600.6 512.0,602.5 516.0,604.3 520.0,605.4 524.0,606.2 528.0,606.1 532.0,605.7 536.0,604.9 540.0,603.6 544.0,602.2 548.0,600.9 552.0,599.7 556.0,599.1 560.0,598.8 564.0,599.5 568.0,600.6 572.0,602.7 576.0,605.7 580.0,608.8 584.0,611.9 588.0,615.1 592.0,618.1 596.0,620.9 600.0,623.3 604.0,625.3 608.0,626.4 612.0,626.7 616.0,626.5 620.0,626.0 624.0,625.0 628.0,623.7 632.0,622.1 636.0,620.6 640.0,619.0 644.0,617.3 648.0,615.7 652.0,614.1 656.0,612.5 660.0,610.9 664.0,609.3 668.0,607.3 672.0,604.8 676.0,602.0 680.0,599.1 684.0,595.9 688.0,592.5 692.0,588.9 696.0,585.4 700.0,582.2 704.0,579.4 708.0,577.5 712.0,576.1 716.0,575.2 720.0,575.1 724.0,575.6 728.0,576.6 732.0,577.8 736.0,579.0 740.0,580.7 744.0,582.7 748.0,585.1 752.0,588.2 756.0,591.4 760.0,594.7 764.0,597.9 768.0,601.2 772.0,604.5 776.0,607.6 780.0,610.1 784.0,612.2 788.0,614.0 792.0,615.9 796.0,617.7 800.0,619.5 804.0,621.0 808.0,622.3 812.0,623.3 816.0,624.7 820.0,626.3 824.0,628.0 828.0,629.7 832.0,631.4 836.0,633.3 840.0,635.9 844.0,638.8 848.0,641.9 852.0,644.5 856.0,646.5 860.0,647.6 864.0,647.6 868.0,646.9 872.0,645.5 876.0,643.1 880.0,640.8 884.0,639.1 888.0,638.5 892.0,639.0 896.0,640.4 900.0,642.7 904.0,645.5 908.0,648.8 912.0,652.5 916.0,655.8 920.0,657.5 924.0,657.7 928.0,656.8 932.0,654.8 936.0,651.6 940.0,647.8 944.0,643.3 948.0,638.3 952.0,633.5 956.0,629.4 960.0,626.0 964.0,623.3 968.0,621.0 972.0,619.4 976.0,618.3 980.0,618.2 984.0,618.7 988.0,619.3 992.0,620.2 996.0,620.8 1000.0,621.1 1004.0,620.9 1008.0,620.2 1012.0,619.2 1016.0,617.8 1020.0,616.1 1024.0,614.0 1028.0,612.0 1032.0,610.5 1036.0,609.5 1040.0,610.1 1044.0,611.7 1048.0,614.2 1052.0,617.2 1056.0,620.7 1060.0,624.7 1064.0,629.1 1068.0,632.7 1072.0,635.9 1076.0,637.8 1080.0,638.8 1084.0,639.0 1088.0,638.4 1092.0,637.2 1096.0,635.4 1100.0,632.7 1104.0,630.5 1108.0,628.7 1112.0,626.8 1116.0,625.1 1120.0,623.4 1124.0,621.7 1128.0,619.6" fill="none" stroke="#ff0000" stroke-width="1" stroke-dasharray="3 3" shape-rendering="crispEdges"/>
</svg>
<g shape-rendering="crispEdges" fill="#000"><rect x="1420" y="567" width="1" height="1"/><rect x="1420" y="612" width="2" height="1"/><rect x="1420" y="667" width="2" height="1"/></g>
<svg x="4" y="671" width="1415" height="129" viewBox="4 671 1415 129" overflow="hidden">
<g shape-rendering="crispEdges"><line x1="4" y1="710.5" x2="1419" y2="710.5" stroke="#c0c0c0" stroke-dasharray="3 3"/><line x1="4" y1="761.5" x2="1419" y2="761.5" stroke="#c0c0c0" stroke-dasharray="3 3"/></g>
<polyline points="4.0,709.5 8.0,709.2 12.0,708.0 16.0,710.1 20.0,719.3 24.0,716.8 28.0,715.8 32.0,715.8 36.0,726.5 40.0,720.3 44.0,714.0 48.0,712.8 52.0,711.1 56.0,713.9 60.0,714.6 64.0,717.9 68.0,714.5 72.0,710.2 76.0,718.8 80.0,717.6 84.0,711.4 88.0,707.0 92.0,703.8 96.0,719.9 100.0,716.3 104.0,722.3 108.0,719.5 112.0,726.1 116.0,725.3 120.0,719.2 124.0,719.7 128.0,719.2 132.0,713.0 136.0,724.0 140.0,723.7 144.0,722.3 148.0,738.0 152.0,738.6 156.0,748.6 160.0,745.4 164.0,746.2 168.0,745.1 172.0,738.9 176.0,738.9 180.0,737.1 184.0,736.5 188.0,747.3 192.0,740.6 196.0,733.0 200.0,735.3 204.0,737.0 208.0,738.1 212.0,738.9 216.0,747.1 220.0,754.1 224.0,752.1 228.0,752.3 232.0,742.6 236.0,743.8 240.0,741.0 244.0,730.7 248.0,731.5 252.0,743.1 256.0,743.3 260.0,739.2 264.0,752.2 268.0,735.6 272.0,737.6 276.0,749.1 280.0,748.2 284.0,734.6 288.0,744.6 292.0,746.3 296.0,748.4 300.0,751.4 304.0,749.4 308.0,737.5 312.0,740.6 316.0,741.7 320.0,742.5 324.0,751.0 328.0,748.3 332.0,756.2 336.0,739.5 340.0,739.5 344.0,739.8 348.0,742.9 352.0,734.8 356.0,730.9 360.0,726.2 364.0,724.7 368.0,724.5 372.0,721.9 376.0,723.0 380.0,727.3 384.0,726.6 388.0,731.3 392.0,732.2 396.0,733.9 400.0,728.3 404.0,730.7 408.0,729.3 412.0,727.5 416.0,726.8 420.0,722.0 424.0,718.9 428.0,714.7 432.0,714.5 436.0,722.6 440.0,724.3 444.0,715.6 448.0,712.5 452.0,708.7 456.0,720.2 460.0,720.5 464.0,719.7 468.0,722.1 472.0,731.2 476.0,732.5 480.0,731.6 484.0,734.9 488.0,735.2 492.0,734.5 496.0,736.0 500.0,733.0 504.0,744.1 508.0,736.3 512.0,738.7 516.0,736.8 520.0,722.9 524.0,724.0 528.0,711.7 532.0,722.9 536.0,721.3 540.0,717.4 544.0,726.2 548.0,734.8 552.0,734.3 556.0,737.2 560.0,737.2 564.0,740.5 568.0,745.1 572.0,758.2 576.0,755.6 580.0,749.1 584.0,749.7 588.0,752.7 592.0,748.5 596.0,746.2 600.0,745.5 604.0,742.1 608.0,744.1 612.0,733.0 616.0,736.3 620.0,738.4 624.0,731.5 628.0,731.8 632.0,730.9 636.0,733.8 640.0,732.4 644.0,725.1 648.0,723.9 652.0,724.4 656.0,725.3 660.0,721.0 664.0,712.3 668.0,706.9 672.0,700.6 676.0,704.4 680.0,702.9 684.0,697.5 688.0,697.3 692.0,699.3 696.0,703.3 700.0,702.7 704.0,702.5 708.0,705.4 712.0,713.1 716.0,708.5 720.0,717.0 724.0,721.6 728.0,719.6 732.0,714.2 736.0,713.0 740.0,730.8 744.0,739.2 748.0,744.2 752.0,754.3 756.0,742.6 760.0,745.5 764.0,740.7 768.0,738.2 772.0,739.0 776.0,742.4 780.0,736.2 784.0,742.4 788.0,753.2 792.0,755.4 796.0,753.5 800.0,748.1 804.0,740.6 808.0,737.7 812.0,739.7 816.0,752.4 820.0,753.7 824.0,762.6 828.0,762.6 832.0,757.9 836.0,761.2 840.0,766.3 844.0,757.7 848.0,758.5 852.0,751.2 856.0,745.5 860.0,747.7 864.0,736.5 868.0,736.9 872.0,737.2 876.0,733.0 880.0,747.2 884.0,760.2 888.0,763.7 892.0,764.6 896.0,767.3 900.0,761.5 904.0,756.4 908.0,757.0 912.0,758.3 916.0,750.3 920.0,737.0 924.0,739.9 928.0,739.1 932.0,740.7 936.0,729.7 940.0,730.6 944.0,726.8 948.0,727.8 952.0,737.2 956.0,733.2 960.0,742.6 964.0,742.6 968.0,742.0 972.0,735.9 976.0,737.7 980.0,744.5 984.0,744.7 988.0,743.8 992.0,744.3 996.0,738.3 1000.0,739.9 1004.0,727.8 1008.0,722.8 1012.0,724.9 1016.0,728.5 1020.0,732.2 1024.0,725.1 1028.0,733.6 1032.0,745.6 1036.0,745.1 1040.0,758.8 1044.0,749.8 1048.0,750.7 1052.0,751.8 1056.0,753.8 1060.0,754.5 1064.0,757.2 1068.0,743.7 1072.0,747.1 1076.0,742.0 1080.0,739.1 1084.0,737.4 1088.0,734.0 1092.0,739.5 1096.0,732.7 1100.0,730.5 1104.0,744.3 1108.0,746.1 1112.0,736.6 1116.0,733.7 1120.0,733.1 1124.0,727.1 1128.0,725.6" fill="none" stroke="#1e90ff" stroke-width="1" shape-rendering="crispEdges"/>
</svg>
<g shape-rendering="crispEdges" fill="#000"><rect x="1420" y="672" width="2" height="1"/><rect x="1420" y="799" width="2" height="1"/></g>
<g shape-rendering="crispEdges" fill="#000">
<rect x="4" y="801" width="1" height="3"/>
<rect x="68" y="801" width="1" height="3"/>
<rect x="132" y="801" width="1" height="3"/>
<rect x="196" y="801" width="1" height="3"/>
<rect x="260" y="801" width="1" height="3"/>
<rect x="324" y="801" width="1" height="3"/>
<rect x="388" y="801" width="1" height="3"/>
<rect x="452" y="801" width="1" height="3"/>
<rect x="516" y="801" width="1" height="3"/>
<rect x="580" y="801" width="1" height="3"/>
<rect x="644" y="801" width="1" height="3"/>
<rect x="708" y="801" width="1" height="3"/>
<rect x="772" y="801" width="1" height="3"/>
<rect x="836" y="801" width="1" height="3"/>
<rect x="900" y="801" width="1" height="3"/>
<rect x="964" y="801" width="1" height="3"/>
<rect x="1028" y="801" width="1" height="3"/>
<rect x="1092" y="801" width="1" height="3"/>
</g>
<g shape-rendering="crispEdges">
<rect x="0" y="821" width="1464" height="1" fill="#e3e3e3"/>
<rect x="0" y="822" width="1464" height="1" fill="#ffffff"/>
<rect x="0" y="823" width="1464" height="1" fill="#000000"/>
<rect x="1" y="824" width="1463" height="1" fill="#ffffff"/>
<rect x="0" y="824" width="1" height="18" fill="#646464"/>
<rect x="0" y="842" width="1464" height="1" fill="#f0f0f0"/>
<rect x="0" y="843" width="1464" height="1" fill="#ffffff"/>
<rect x="221" y="823" width="108" height="19" fill="#000"/>
<rect x="222" y="823" width="106" height="18" fill="#fff"/>
</g>
<g shape-rendering="crispEdges" fill="#555555">
<rect x="113" y="826" width="1" height="14"/>
<rect x="437" y="826" width="1" height="14"/>
<rect x="549" y="826" width="1" height="14"/>
<rect x="669" y="826" width="1" height="14"/>
<rect x="793" y="826" width="1" height="14"/>
<rect x="889" y="826" width="1" height="14"/>
<rect x="969" y="826" width="1" height="14"/>
<rect x="1073" y="826" width="1" height="14"/>
</g>
<path d="M1434.5,832 L1438.5,828.5 L1438.5,835.5 Z" fill="#909090"/><path d="M1457.5,832 L1453.5,828.5 L1453.5,835.5 Z" fill="#909090"/>
<text x="6.20" y="12.00" font-size="10.20" fill="#3c3c3c" textLength="13.60" lengthAdjust="spacingAndGlyphs" stroke="#3c3c3c" stroke-width="0" xml:space="preserve">H4</text>
<text x="35.00" y="12.00" font-size="10.20" fill="#3c3c3c" textLength="12.61" lengthAdjust="spacingAndGlyphs" stroke="#3c3c3c" stroke-width="0" xml:space="preserve">D1</text>
<text x="62.50" y="12.00" font-size="10.20" fill="#3c3c3c" textLength="15.52" lengthAdjust="spacingAndGlyphs" stroke="#3c3c3c" stroke-width="0" xml:space="preserve">W1</text>
<text x="88.80" y="12.00" font-size="10.20" fill="#3c3c3c" textLength="16.28" lengthAdjust="spacingAndGlyphs" stroke="#3c3c3c" stroke-width="0" xml:space="preserve">MN</text>
<text x="18.60" y="36.00" font-size="9.87" fill="#000" textLength="67.81" lengthAdjust="spacingAndGlyphs" stroke="#000" stroke-width="0.3" xml:space="preserve">USDCHF-,Daily</text>
<text x="92.40" y="36.00" font-size="9.87" fill="#000" textLength="140.71" lengthAdjust="spacingAndGlyphs" stroke="#000" stroke-width="0.3" xml:space="preserve">0.98592 0.98713 0.98581 0.98704</text>
<text x="1425.10" y="36.00" font-size="9.87" fill="#000" textLength="32.98" lengthAdjust="spacingAndGlyphs" stroke="#000" stroke-width="0.3" xml:space="preserve">1.02580</text>
<text x="1425.10" y="69.00" font-size="9.87" fill="#000" textLength="32.98" lengthAdjust="spacingAndGlyphs" stroke="#000" stroke-width="0.3" xml:space="preserve">1.02200</text>
<text x="1425.10" y="102.00" font-size="9.87" fill="#000" textLength="32.98" lengthAdjust="spacingAndGlyphs" stroke="#000" stroke-width="0.3" xml:space="preserve">1.01820</text>
<text x="1425.10" y="135.00" font-size="9.87" fill="#000" textLength="32.98" lengthAdjust="spacingAndGlyphs" stroke="#000" stroke-width="0.3" xml:space="preserve">1.01440</text>
<text x="1425.10" y="168.00" font-size="9.87" fill="#000" textLength="32.98" lengthAdjust="spacingAndGlyphs" stroke="#000" stroke-width="0.3" xml:space="preserve">1.01050</text>
<text x="1425.10" y="201.00" font-size="9.87" fill="#000" textLength="32.98" lengthAdjust="spacingAndGlyphs" stroke="#000" stroke-width="0.3" xml:space="preserve">1.00670</text>
<text x="1425.10" y="234.00" font-size="9.87" fill="#000" textLength="32.98" lengthAdjust="spacingAndGlyphs" stroke="#000" stroke-width="0.3" xml:space="preserve">1.00290</text>
<text x="1425.10" y="267.00" font-size="9.87" fill="#000" textLength="32.98" lengthAdjust="spacingAndGlyphs" stroke="#000" stroke-width="0.3" xml:space="preserve">0.99910</text>
<text x="1425.10" y="300.00" font-size="9.87" fill="#000" textLength="32.98" lengthAdjust="spacingAndGlyphs" stroke="#000" stroke-width="0.3" xml:space="preserve">0.99530</text>
<text x="1425.10" y="333.00" font-size="9.87" fill="#000" textLength="32.98" lengthAdjust="spacingAndGlyphs" stroke="#000" stroke-width="0.3" xml:space="preserve">0.99140</text>
<text x="1425.10" y="366.00" font-size="9.87" fill="#000" textLength="32.98" lengthAdjust="spacingAndGlyphs" stroke="#000" stroke-width="0.3" xml:space="preserve">0.98760</text>
<text x="1425.10" y="399.00" font-size="9.87" fill="#000" textLength="32.98" lengthAdjust="spacingAndGlyphs" stroke="#000" stroke-width="0.3" xml:space="preserve">0.98380</text>
<text x="1425.10" y="465.00" font-size="9.87" fill="#000" textLength="32.98" lengthAdjust="spacingAndGlyphs" stroke="#000" stroke-width="0.3" xml:space="preserve">0.97610</text>
<text x="1425.10" y="498.00" font-size="9.87" fill="#000" textLength="32.98" lengthAdjust="spacingAndGlyphs" stroke="#000" stroke-width="0.3" xml:space="preserve">0.97230</text>
<text x="1425.10" y="531.00" font-size="9.87" fill="#000" textLength="32.98" lengthAdjust="spacingAndGlyphs" stroke="#000" stroke-width="0.3" xml:space="preserve">0.96850</text>
<text x="1425.10" y="564.00" font-size="9.87" fill="#000" textLength="32.98" lengthAdjust="spacingAndGlyphs" stroke="#000" stroke-width="0.3" xml:space="preserve">0.96470</text>
<text x="1425.10" y="154.00" font-size="9.87" fill="#fff" textLength="32.98" lengthAdjust="spacingAndGlyphs" stroke="#fff" stroke-width="0.3" xml:space="preserve">1.01205</text>
<text x="1425.10" y="249.00" font-size="9.87" fill="#fff" textLength="32.98" lengthAdjust="spacingAndGlyphs" stroke="#fff" stroke-width="0.3" xml:space="preserve">1.00106</text>
<text x="1425.10" y="430.00" font-size="9.87" fill="#fff" textLength="32.98" lengthAdjust="spacingAndGlyphs" stroke="#fff" stroke-width="0.3" xml:space="preserve">0.98004</text>
<text x="1425.10" y="517.00" font-size="9.87" fill="#fff" textLength="32.98" lengthAdjust="spacingAndGlyphs" stroke="#fff" stroke-width="0.3" xml:space="preserve">0.97001</text>
<text x="1425.10" y="371.00" font-size="9.87" fill="#fff" textLength="32.98" lengthAdjust="spacingAndGlyphs" stroke="#fff" stroke-width="0.3" xml:space="preserve">0.98704</text>
<text x="7.40" y="578.00" font-size="9.87" fill="#000" textLength="151.82" lengthAdjust="spacingAndGlyphs" stroke="#000" stroke-width="0.3" xml:space="preserve">MACD(12,26,9) 0.000419 -0.001008</text>
<text x="1422.70" y="576.00" font-size="9.87" fill="#000" textLength="38.69" lengthAdjust="spacingAndGlyphs" stroke="#000" stroke-width="0.3" xml:space="preserve">0.006286</text>
<text x="1423.20" y="616.00" font-size="9.87" fill="#000" textLength="16.92" lengthAdjust="spacingAndGlyphs" stroke="#000" stroke-width="0.3" xml:space="preserve">0.00</text>
<text x="1422.50" y="665.00" font-size="9.87" fill="#000" textLength="37.00" lengthAdjust="spacingAndGlyphs" stroke="#000" stroke-width="0.3" xml:space="preserve">-0.00762</text>
<text x="7.70" y="683.00" font-size="9.87" fill="#000" textLength="68.52" lengthAdjust="spacingAndGlyphs" stroke="#000" stroke-width="0.3" xml:space="preserve">RSI(14) 58.1725</text>
<text x="1423.30" y="681.00" font-size="9.87" fill="#000" textLength="14.32" lengthAdjust="spacingAndGlyphs" stroke="#000" stroke-width="0.3" xml:space="preserve">100</text>
<text x="1421.90" y="714.00" font-size="9.87" fill="#000" textLength="9.60" lengthAdjust="spacingAndGlyphs" stroke="#000" stroke-width="0.3" xml:space="preserve">70</text>
<text x="1421.90" y="765.00" font-size="9.87" fill="#000" textLength="9.60" lengthAdjust="spacingAndGlyphs" stroke="#000" stroke-width="0.3" xml:space="preserve">30</text>
<text x="1422.50" y="797.00" font-size="9.87" fill="#000" textLength="5.43" lengthAdjust="spacingAndGlyphs" stroke="#000" stroke-width="0.3" xml:space="preserve">0</text>
<text x="2.50" y="813.00" font-size="9.87" fill="#000" textLength="46.84" lengthAdjust="spacingAndGlyphs" stroke="#000" stroke-width="0.3" xml:space="preserve">5 Oct 2018</text>
<text x="66.50" y="813.00" font-size="9.87" fill="#000" textLength="51.51" lengthAdjust="spacingAndGlyphs" stroke="#000" stroke-width="0.3" xml:space="preserve">24 Oct 2018</text>
<text x="130.90" y="813.00" font-size="9.87" fill="#000" textLength="54.14" lengthAdjust="spacingAndGlyphs" stroke="#000" stroke-width="0.3" xml:space="preserve">12 Nov 2018</text>
<text x="194.80" y="813.00" font-size="9.87" fill="#000" textLength="54.62" lengthAdjust="spacingAndGlyphs" stroke="#000" stroke-width="0.3" xml:space="preserve">30 Nov 2018</text>
<text x="258.50" y="813.00" font-size="9.87" fill="#000" textLength="52.84" lengthAdjust="spacingAndGlyphs" stroke="#000" stroke-width="0.3" xml:space="preserve">19 Dec 2018</text>
<text x="322.50" y="813.00" font-size="9.87" fill="#000" textLength="45.74" lengthAdjust="spacingAndGlyphs" stroke="#000" stroke-width="0.3" xml:space="preserve">7 Jan 2019</text>
<text x="386.00" y="813.00" font-size="9.87" fill="#000" textLength="50.68" lengthAdjust="spacingAndGlyphs" stroke="#000" stroke-width="0.3" xml:space="preserve">25 Jan 2019</text>
<text x="450.70" y="813.00" font-size="9.87" fill="#000" textLength="52.54" lengthAdjust="spacingAndGlyphs" stroke="#000" stroke-width="0.3" xml:space="preserve">13 Feb 2019</text>
<text x="515.70" y="813.00" font-size="9.87" fill="#000" textLength="46.62" lengthAdjust="spacingAndGlyphs" stroke="#000" stroke-width="0.3" xml:space="preserve">4 Mar 2019</text>
<text x="578.60" y="813.00" font-size="9.87" fill="#000" textLength="52.42" lengthAdjust="spacingAndGlyphs" stroke="#000" stroke-width="0.3" xml:space="preserve">22 Mar 2019</text>
<text x="642.50" y="813.00" font-size="9.87" fill="#000" textLength="51.74" lengthAdjust="spacingAndGlyphs" stroke="#000" stroke-width="0.3" xml:space="preserve">10 Apr 2019</text>
<text x="706.50" y="813.00" font-size="9.87" fill="#000" textLength="51.64" lengthAdjust="spacingAndGlyphs" stroke="#000" stroke-width="0.3" xml:space="preserve">30 Apr 2019</text>
<text x="770.70" y="813.00" font-size="9.87" fill="#000" textLength="55.62" lengthAdjust="spacingAndGlyphs" stroke="#000" stroke-width="0.3" xml:space="preserve">19 May 2019</text>
<text x="834.60" y="813.00" font-size="9.87" fill="#000" textLength="45.85" lengthAdjust="spacingAndGlyphs" stroke="#000" stroke-width="0.3" xml:space="preserve">6 Jun 2019</text>
<text x="898.50" y="813.00" font-size="9.87" fill="#000" textLength="51.12" lengthAdjust="spacingAndGlyphs" stroke="#000" stroke-width="0.3" xml:space="preserve">25 Jun 2019</text>
<text x="962.70" y="813.00" font-size="9.87" fill="#000" textLength="46.76" lengthAdjust="spacingAndGlyphs" stroke="#000" stroke-width="0.3" xml:space="preserve">14 Jul 2019</text>
<text x="1026.70" y="813.00" font-size="9.87" fill="#000" textLength="48.94" lengthAdjust="spacingAndGlyphs" stroke="#000" stroke-width="0.3" xml:space="preserve">1 Aug 2019</text>
<text x="1090.60" y="813.00" font-size="9.87" fill="#000" textLength="53.51" lengthAdjust="spacingAndGlyphs" stroke="#000" stroke-width="0.3" xml:space="preserve">20 Aug 2019</text>
<text x="15.25" y="838.00" font-size="12.50" fill="#6d6d6d" textLength="86.02" lengthAdjust="spacingAndGlyphs" stroke="#6d6d6d" stroke-width="0" xml:space="preserve">EURUSD-,Daily</text>
<text x="122.50" y="838.00" font-size="12.50" fill="#6d6d6d" textLength="87.55" lengthAdjust="spacingAndGlyphs" stroke="#6d6d6d" stroke-width="0" xml:space="preserve">AUDUSD-,Daily</text>
<text x="232.50" y="838.00" font-size="12.50" fill="#000" textLength="84.03" lengthAdjust="spacingAndGlyphs" stroke="#000" stroke-width="0" xml:space="preserve">USDCHF-,Daily</text>
<text x="340.00" y="838.00" font-size="12.50" fill="#6d6d6d" textLength="85.77" lengthAdjust="spacingAndGlyphs" stroke="#6d6d6d" stroke-width="0" xml:space="preserve">USDCAD-,Daily</text>
<text x="449.00" y="838.00" font-size="12.50" fill="#6d6d6d" textLength="88.52" lengthAdjust="spacingAndGlyphs" stroke="#6d6d6d" stroke-width="0" xml:space="preserve">USDCNH-,Daily</text>
<text x="559.00" y="838.00" font-size="12.50" fill="#6d6d6d" textLength="98.53" lengthAdjust="spacingAndGlyphs" stroke="#6d6d6d" stroke-width="0" xml:space="preserve">EURCHF-,Weekly</text>
<text x="681.00" y="838.00" font-size="12.50" fill="#6d6d6d" textLength="100.51" lengthAdjust="spacingAndGlyphs" stroke="#6d6d6d" stroke-width="0" xml:space="preserve">XAUUSD-,Weekly</text>
<text x="803.50" y="838.00" font-size="12.50" fill="#6d6d6d" textLength="73.63" lengthAdjust="spacingAndGlyphs" stroke="#6d6d6d" stroke-width="0" xml:space="preserve">GBPUSD-,H1</text>
<text x="899.90" y="838.00" font-size="12.50" fill="#6d6d6d" textLength="56.62" lengthAdjust="spacingAndGlyphs" stroke="#6d6d6d" stroke-width="0" xml:space="preserve">UKOil-,H1</text>
<text x="978.80" y="838.00" font-size="12.50" fill="#6d6d6d" textLength="83.30" lengthAdjust="spacingAndGlyphs" stroke="#6d6d6d" stroke-width="0" xml:space="preserve">USDX-,Weekly</text>
</svg></body></html>
